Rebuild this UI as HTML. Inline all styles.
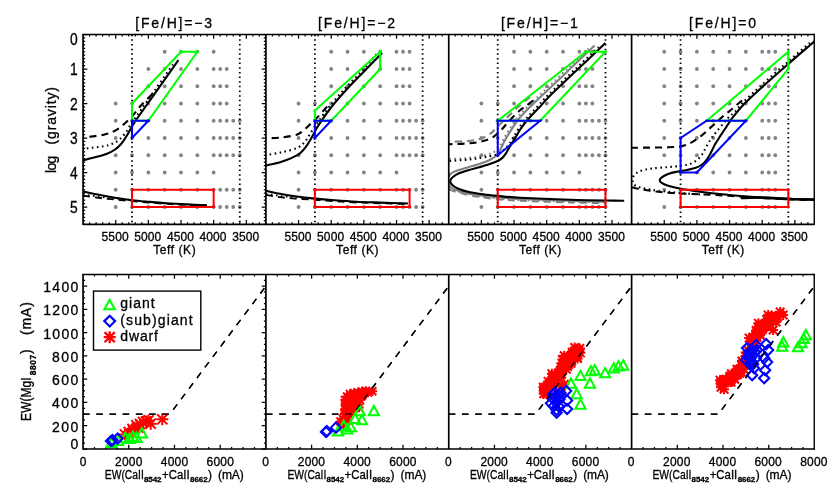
<!DOCTYPE html><html><head><meta charset="utf-8"><style>html,body{margin:0;padding:0;background:#fff}svg{display:block}text{font-family:"Liberation Sans",sans-serif;fill:#000;stroke:#000;stroke-width:0.3px}</style></head><body>
<svg style="will-change:transform" width="830" height="499" viewBox="0 0 830 499">
<rect width="830" height="499" fill="#fff"/>
<clipPath id="ct0"><rect x="83.05" y="34.5" width="182.85" height="189.8"/></clipPath>
<clipPath id="cb0"><rect x="83.05" y="274.5" width="182.85" height="174.5"/></clipPath>
<clipPath id="ct1"><rect x="265.9" y="34.5" width="182.85" height="189.8"/></clipPath>
<clipPath id="cb1"><rect x="265.9" y="274.5" width="182.85" height="174.5"/></clipPath>
<clipPath id="ct2"><rect x="448.75" y="34.5" width="182.85" height="189.8"/></clipPath>
<clipPath id="cb2"><rect x="448.75" y="274.5" width="182.85" height="174.5"/></clipPath>
<clipPath id="ct3"><rect x="631.6" y="34.5" width="182.85" height="189.8"/></clipPath>
<clipPath id="cb3"><rect x="631.6" y="274.5" width="182.85" height="174.5"/></clipPath>
<g clip-path="url(#ct0)">
<circle cx="164.68" cy="51.75" r="1.9" fill="#848484"/>
<circle cx="181.01" cy="51.75" r="1.9" fill="#848484"/>
<circle cx="197.33" cy="51.75" r="1.9" fill="#848484"/>
<circle cx="213.66" cy="51.75" r="1.9" fill="#848484"/>
<circle cx="148.35" cy="69" r="1.9" fill="#848484"/>
<circle cx="164.68" cy="69" r="1.9" fill="#848484"/>
<circle cx="181.01" cy="69" r="1.9" fill="#848484"/>
<circle cx="197.33" cy="69" r="1.9" fill="#848484"/>
<circle cx="213.66" cy="69" r="1.9" fill="#848484"/>
<circle cx="220.19" cy="69" r="1.9" fill="#848484"/>
<circle cx="226.72" cy="69" r="1.9" fill="#848484"/>
<circle cx="148.35" cy="86.25" r="1.9" fill="#848484"/>
<circle cx="164.68" cy="86.25" r="1.9" fill="#848484"/>
<circle cx="181.01" cy="86.25" r="1.9" fill="#848484"/>
<circle cx="197.33" cy="86.25" r="1.9" fill="#848484"/>
<circle cx="213.66" cy="86.25" r="1.9" fill="#848484"/>
<circle cx="220.19" cy="86.25" r="1.9" fill="#848484"/>
<circle cx="226.72" cy="86.25" r="1.9" fill="#848484"/>
<circle cx="115.7" cy="103.5" r="1.9" fill="#848484"/>
<circle cx="132.03" cy="103.5" r="1.9" fill="#848484"/>
<circle cx="148.35" cy="103.5" r="1.9" fill="#848484"/>
<circle cx="164.68" cy="103.5" r="1.9" fill="#848484"/>
<circle cx="181.01" cy="103.5" r="1.9" fill="#848484"/>
<circle cx="197.33" cy="103.5" r="1.9" fill="#848484"/>
<circle cx="213.66" cy="103.5" r="1.9" fill="#848484"/>
<circle cx="220.19" cy="103.5" r="1.9" fill="#848484"/>
<circle cx="226.72" cy="103.5" r="1.9" fill="#848484"/>
<circle cx="115.7" cy="120.75" r="1.9" fill="#848484"/>
<circle cx="132.03" cy="120.75" r="1.9" fill="#848484"/>
<circle cx="148.35" cy="120.75" r="1.9" fill="#848484"/>
<circle cx="164.68" cy="120.75" r="1.9" fill="#848484"/>
<circle cx="181.01" cy="120.75" r="1.9" fill="#848484"/>
<circle cx="197.33" cy="120.75" r="1.9" fill="#848484"/>
<circle cx="213.66" cy="120.75" r="1.9" fill="#848484"/>
<circle cx="220.19" cy="120.75" r="1.9" fill="#848484"/>
<circle cx="226.72" cy="120.75" r="1.9" fill="#848484"/>
<circle cx="233.25" cy="120.75" r="1.9" fill="#848484"/>
<circle cx="239.78" cy="120.75" r="1.9" fill="#848484"/>
<circle cx="115.7" cy="138" r="1.9" fill="#848484"/>
<circle cx="132.03" cy="138" r="1.9" fill="#848484"/>
<circle cx="148.35" cy="138" r="1.9" fill="#848484"/>
<circle cx="164.68" cy="138" r="1.9" fill="#848484"/>
<circle cx="181.01" cy="138" r="1.9" fill="#848484"/>
<circle cx="197.33" cy="138" r="1.9" fill="#848484"/>
<circle cx="213.66" cy="138" r="1.9" fill="#848484"/>
<circle cx="220.19" cy="138" r="1.9" fill="#848484"/>
<circle cx="226.72" cy="138" r="1.9" fill="#848484"/>
<circle cx="233.25" cy="138" r="1.9" fill="#848484"/>
<circle cx="239.78" cy="138" r="1.9" fill="#848484"/>
<circle cx="115.7" cy="155.25" r="1.9" fill="#848484"/>
<circle cx="132.03" cy="155.25" r="1.9" fill="#848484"/>
<circle cx="148.35" cy="155.25" r="1.9" fill="#848484"/>
<circle cx="164.68" cy="155.25" r="1.9" fill="#848484"/>
<circle cx="181.01" cy="155.25" r="1.9" fill="#848484"/>
<circle cx="197.33" cy="155.25" r="1.9" fill="#848484"/>
<circle cx="213.66" cy="155.25" r="1.9" fill="#848484"/>
<circle cx="220.19" cy="155.25" r="1.9" fill="#848484"/>
<circle cx="226.72" cy="155.25" r="1.9" fill="#848484"/>
<circle cx="233.25" cy="155.25" r="1.9" fill="#848484"/>
<circle cx="239.78" cy="155.25" r="1.9" fill="#848484"/>
<circle cx="115.7" cy="172.5" r="1.9" fill="#848484"/>
<circle cx="132.03" cy="172.5" r="1.9" fill="#848484"/>
<circle cx="148.35" cy="172.5" r="1.9" fill="#848484"/>
<circle cx="164.68" cy="172.5" r="1.9" fill="#848484"/>
<circle cx="181.01" cy="172.5" r="1.9" fill="#848484"/>
<circle cx="197.33" cy="172.5" r="1.9" fill="#848484"/>
<circle cx="213.66" cy="172.5" r="1.9" fill="#848484"/>
<circle cx="115.7" cy="189.75" r="1.9" fill="#848484"/>
<circle cx="132.03" cy="189.75" r="1.9" fill="#848484"/>
<circle cx="148.35" cy="189.75" r="1.9" fill="#848484"/>
<circle cx="164.68" cy="189.75" r="1.9" fill="#848484"/>
<circle cx="181.01" cy="189.75" r="1.9" fill="#848484"/>
<circle cx="197.33" cy="189.75" r="1.9" fill="#848484"/>
<circle cx="213.66" cy="189.75" r="1.9" fill="#848484"/>
<circle cx="220.19" cy="189.75" r="1.9" fill="#848484"/>
<circle cx="226.72" cy="189.75" r="1.9" fill="#848484"/>
<circle cx="233.25" cy="189.75" r="1.9" fill="#848484"/>
<circle cx="239.78" cy="189.75" r="1.9" fill="#848484"/>
<circle cx="115.7" cy="207" r="1.9" fill="#848484"/>
<circle cx="132.03" cy="207" r="1.9" fill="#848484"/>
<circle cx="148.35" cy="207" r="1.9" fill="#848484"/>
<circle cx="164.68" cy="207" r="1.9" fill="#848484"/>
<circle cx="181.01" cy="207" r="1.9" fill="#848484"/>
<circle cx="197.33" cy="207" r="1.9" fill="#848484"/>
<circle cx="213.66" cy="207" r="1.9" fill="#848484"/>
<circle cx="220.19" cy="207" r="1.9" fill="#848484"/>
<circle cx="226.72" cy="207" r="1.9" fill="#848484"/>
<circle cx="233.25" cy="207" r="1.9" fill="#848484"/>
<circle cx="239.78" cy="207" r="1.9" fill="#848484"/>
<line x1="132.03" y1="34.5" x2="132.03" y2="224.3" stroke="#000" stroke-width="1.8" stroke-dasharray="1.5 3.15" stroke-dashoffset="-0.2"/>
<line x1="239.78" y1="34.5" x2="239.78" y2="224.3" stroke="#000" stroke-width="1.8" stroke-dasharray="1.5 3.15" stroke-dashoffset="-0.2"/>
</g>
<g clip-path="url(#ct1)">
<circle cx="331.2" cy="51.75" r="1.9" fill="#848484"/>
<circle cx="347.53" cy="51.75" r="1.9" fill="#848484"/>
<circle cx="363.86" cy="51.75" r="1.9" fill="#848484"/>
<circle cx="380.18" cy="51.75" r="1.9" fill="#848484"/>
<circle cx="396.51" cy="51.75" r="1.9" fill="#848484"/>
<circle cx="403.04" cy="51.75" r="1.9" fill="#848484"/>
<circle cx="409.57" cy="51.75" r="1.9" fill="#848484"/>
<circle cx="331.2" cy="69" r="1.9" fill="#848484"/>
<circle cx="347.53" cy="69" r="1.9" fill="#848484"/>
<circle cx="363.86" cy="69" r="1.9" fill="#848484"/>
<circle cx="380.18" cy="69" r="1.9" fill="#848484"/>
<circle cx="396.51" cy="69" r="1.9" fill="#848484"/>
<circle cx="403.04" cy="69" r="1.9" fill="#848484"/>
<circle cx="409.57" cy="69" r="1.9" fill="#848484"/>
<circle cx="331.2" cy="86.25" r="1.9" fill="#848484"/>
<circle cx="347.53" cy="86.25" r="1.9" fill="#848484"/>
<circle cx="363.86" cy="86.25" r="1.9" fill="#848484"/>
<circle cx="380.18" cy="86.25" r="1.9" fill="#848484"/>
<circle cx="396.51" cy="86.25" r="1.9" fill="#848484"/>
<circle cx="403.04" cy="86.25" r="1.9" fill="#848484"/>
<circle cx="409.57" cy="86.25" r="1.9" fill="#848484"/>
<circle cx="298.55" cy="103.5" r="1.9" fill="#848484"/>
<circle cx="314.88" cy="103.5" r="1.9" fill="#848484"/>
<circle cx="331.2" cy="103.5" r="1.9" fill="#848484"/>
<circle cx="347.53" cy="103.5" r="1.9" fill="#848484"/>
<circle cx="363.86" cy="103.5" r="1.9" fill="#848484"/>
<circle cx="380.18" cy="103.5" r="1.9" fill="#848484"/>
<circle cx="396.51" cy="103.5" r="1.9" fill="#848484"/>
<circle cx="403.04" cy="103.5" r="1.9" fill="#848484"/>
<circle cx="409.57" cy="103.5" r="1.9" fill="#848484"/>
<circle cx="298.55" cy="120.75" r="1.9" fill="#848484"/>
<circle cx="314.88" cy="120.75" r="1.9" fill="#848484"/>
<circle cx="331.2" cy="120.75" r="1.9" fill="#848484"/>
<circle cx="347.53" cy="120.75" r="1.9" fill="#848484"/>
<circle cx="363.86" cy="120.75" r="1.9" fill="#848484"/>
<circle cx="380.18" cy="120.75" r="1.9" fill="#848484"/>
<circle cx="396.51" cy="120.75" r="1.9" fill="#848484"/>
<circle cx="403.04" cy="120.75" r="1.9" fill="#848484"/>
<circle cx="409.57" cy="120.75" r="1.9" fill="#848484"/>
<circle cx="416.1" cy="120.75" r="1.9" fill="#848484"/>
<circle cx="422.63" cy="120.75" r="1.9" fill="#848484"/>
<circle cx="298.55" cy="138" r="1.9" fill="#848484"/>
<circle cx="314.88" cy="138" r="1.9" fill="#848484"/>
<circle cx="331.2" cy="138" r="1.9" fill="#848484"/>
<circle cx="347.53" cy="138" r="1.9" fill="#848484"/>
<circle cx="363.86" cy="138" r="1.9" fill="#848484"/>
<circle cx="380.18" cy="138" r="1.9" fill="#848484"/>
<circle cx="396.51" cy="138" r="1.9" fill="#848484"/>
<circle cx="403.04" cy="138" r="1.9" fill="#848484"/>
<circle cx="409.57" cy="138" r="1.9" fill="#848484"/>
<circle cx="416.1" cy="138" r="1.9" fill="#848484"/>
<circle cx="422.63" cy="138" r="1.9" fill="#848484"/>
<circle cx="298.55" cy="155.25" r="1.9" fill="#848484"/>
<circle cx="314.88" cy="155.25" r="1.9" fill="#848484"/>
<circle cx="331.2" cy="155.25" r="1.9" fill="#848484"/>
<circle cx="347.53" cy="155.25" r="1.9" fill="#848484"/>
<circle cx="363.86" cy="155.25" r="1.9" fill="#848484"/>
<circle cx="380.18" cy="155.25" r="1.9" fill="#848484"/>
<circle cx="396.51" cy="155.25" r="1.9" fill="#848484"/>
<circle cx="403.04" cy="155.25" r="1.9" fill="#848484"/>
<circle cx="409.57" cy="155.25" r="1.9" fill="#848484"/>
<circle cx="416.1" cy="155.25" r="1.9" fill="#848484"/>
<circle cx="422.63" cy="155.25" r="1.9" fill="#848484"/>
<circle cx="298.55" cy="172.5" r="1.9" fill="#848484"/>
<circle cx="314.88" cy="172.5" r="1.9" fill="#848484"/>
<circle cx="331.2" cy="172.5" r="1.9" fill="#848484"/>
<circle cx="347.53" cy="172.5" r="1.9" fill="#848484"/>
<circle cx="363.86" cy="172.5" r="1.9" fill="#848484"/>
<circle cx="380.18" cy="172.5" r="1.9" fill="#848484"/>
<circle cx="396.51" cy="172.5" r="1.9" fill="#848484"/>
<circle cx="298.55" cy="189.75" r="1.9" fill="#848484"/>
<circle cx="314.88" cy="189.75" r="1.9" fill="#848484"/>
<circle cx="331.2" cy="189.75" r="1.9" fill="#848484"/>
<circle cx="347.53" cy="189.75" r="1.9" fill="#848484"/>
<circle cx="363.86" cy="189.75" r="1.9" fill="#848484"/>
<circle cx="380.18" cy="189.75" r="1.9" fill="#848484"/>
<circle cx="396.51" cy="189.75" r="1.9" fill="#848484"/>
<circle cx="403.04" cy="189.75" r="1.9" fill="#848484"/>
<circle cx="409.57" cy="189.75" r="1.9" fill="#848484"/>
<circle cx="416.1" cy="189.75" r="1.9" fill="#848484"/>
<circle cx="422.63" cy="189.75" r="1.9" fill="#848484"/>
<circle cx="298.55" cy="207" r="1.9" fill="#848484"/>
<circle cx="314.88" cy="207" r="1.9" fill="#848484"/>
<circle cx="331.2" cy="207" r="1.9" fill="#848484"/>
<circle cx="347.53" cy="207" r="1.9" fill="#848484"/>
<circle cx="363.86" cy="207" r="1.9" fill="#848484"/>
<circle cx="380.18" cy="207" r="1.9" fill="#848484"/>
<circle cx="396.51" cy="207" r="1.9" fill="#848484"/>
<circle cx="403.04" cy="207" r="1.9" fill="#848484"/>
<circle cx="409.57" cy="207" r="1.9" fill="#848484"/>
<circle cx="416.1" cy="207" r="1.9" fill="#848484"/>
<circle cx="422.63" cy="207" r="1.9" fill="#848484"/>
<line x1="314.88" y1="34.5" x2="314.88" y2="224.3" stroke="#000" stroke-width="1.8" stroke-dasharray="1.5 3.15" stroke-dashoffset="-0.2"/>
<line x1="422.63" y1="34.5" x2="422.63" y2="224.3" stroke="#000" stroke-width="1.8" stroke-dasharray="1.5 3.15" stroke-dashoffset="-0.2"/>
</g>
<g clip-path="url(#ct2)">
<circle cx="514.05" cy="51.75" r="1.9" fill="#848484"/>
<circle cx="530.38" cy="51.75" r="1.9" fill="#848484"/>
<circle cx="546.71" cy="51.75" r="1.9" fill="#848484"/>
<circle cx="563.03" cy="51.75" r="1.9" fill="#848484"/>
<circle cx="579.36" cy="51.75" r="1.9" fill="#848484"/>
<circle cx="585.89" cy="51.75" r="1.9" fill="#848484"/>
<circle cx="592.42" cy="51.75" r="1.9" fill="#848484"/>
<circle cx="514.05" cy="69" r="1.9" fill="#848484"/>
<circle cx="530.38" cy="69" r="1.9" fill="#848484"/>
<circle cx="546.71" cy="69" r="1.9" fill="#848484"/>
<circle cx="563.03" cy="69" r="1.9" fill="#848484"/>
<circle cx="579.36" cy="69" r="1.9" fill="#848484"/>
<circle cx="585.89" cy="69" r="1.9" fill="#848484"/>
<circle cx="592.42" cy="69" r="1.9" fill="#848484"/>
<circle cx="514.05" cy="86.25" r="1.9" fill="#848484"/>
<circle cx="530.38" cy="86.25" r="1.9" fill="#848484"/>
<circle cx="546.71" cy="86.25" r="1.9" fill="#848484"/>
<circle cx="563.03" cy="86.25" r="1.9" fill="#848484"/>
<circle cx="579.36" cy="86.25" r="1.9" fill="#848484"/>
<circle cx="585.89" cy="86.25" r="1.9" fill="#848484"/>
<circle cx="592.42" cy="86.25" r="1.9" fill="#848484"/>
<circle cx="481.4" cy="103.5" r="1.9" fill="#848484"/>
<circle cx="497.73" cy="103.5" r="1.9" fill="#848484"/>
<circle cx="514.05" cy="103.5" r="1.9" fill="#848484"/>
<circle cx="530.38" cy="103.5" r="1.9" fill="#848484"/>
<circle cx="546.71" cy="103.5" r="1.9" fill="#848484"/>
<circle cx="563.03" cy="103.5" r="1.9" fill="#848484"/>
<circle cx="579.36" cy="103.5" r="1.9" fill="#848484"/>
<circle cx="585.89" cy="103.5" r="1.9" fill="#848484"/>
<circle cx="592.42" cy="103.5" r="1.9" fill="#848484"/>
<circle cx="481.4" cy="120.75" r="1.9" fill="#848484"/>
<circle cx="497.73" cy="120.75" r="1.9" fill="#848484"/>
<circle cx="514.05" cy="120.75" r="1.9" fill="#848484"/>
<circle cx="530.38" cy="120.75" r="1.9" fill="#848484"/>
<circle cx="546.71" cy="120.75" r="1.9" fill="#848484"/>
<circle cx="563.03" cy="120.75" r="1.9" fill="#848484"/>
<circle cx="579.36" cy="120.75" r="1.9" fill="#848484"/>
<circle cx="585.89" cy="120.75" r="1.9" fill="#848484"/>
<circle cx="592.42" cy="120.75" r="1.9" fill="#848484"/>
<circle cx="598.95" cy="120.75" r="1.9" fill="#848484"/>
<circle cx="605.48" cy="120.75" r="1.9" fill="#848484"/>
<circle cx="481.4" cy="138" r="1.9" fill="#848484"/>
<circle cx="497.73" cy="138" r="1.9" fill="#848484"/>
<circle cx="514.05" cy="138" r="1.9" fill="#848484"/>
<circle cx="530.38" cy="138" r="1.9" fill="#848484"/>
<circle cx="546.71" cy="138" r="1.9" fill="#848484"/>
<circle cx="563.03" cy="138" r="1.9" fill="#848484"/>
<circle cx="579.36" cy="138" r="1.9" fill="#848484"/>
<circle cx="585.89" cy="138" r="1.9" fill="#848484"/>
<circle cx="592.42" cy="138" r="1.9" fill="#848484"/>
<circle cx="598.95" cy="138" r="1.9" fill="#848484"/>
<circle cx="605.48" cy="138" r="1.9" fill="#848484"/>
<circle cx="481.4" cy="155.25" r="1.9" fill="#848484"/>
<circle cx="497.73" cy="155.25" r="1.9" fill="#848484"/>
<circle cx="514.05" cy="155.25" r="1.9" fill="#848484"/>
<circle cx="530.38" cy="155.25" r="1.9" fill="#848484"/>
<circle cx="546.71" cy="155.25" r="1.9" fill="#848484"/>
<circle cx="563.03" cy="155.25" r="1.9" fill="#848484"/>
<circle cx="579.36" cy="155.25" r="1.9" fill="#848484"/>
<circle cx="585.89" cy="155.25" r="1.9" fill="#848484"/>
<circle cx="592.42" cy="155.25" r="1.9" fill="#848484"/>
<circle cx="598.95" cy="155.25" r="1.9" fill="#848484"/>
<circle cx="605.48" cy="155.25" r="1.9" fill="#848484"/>
<circle cx="481.4" cy="172.5" r="1.9" fill="#848484"/>
<circle cx="497.73" cy="172.5" r="1.9" fill="#848484"/>
<circle cx="514.05" cy="172.5" r="1.9" fill="#848484"/>
<circle cx="530.38" cy="172.5" r="1.9" fill="#848484"/>
<circle cx="546.71" cy="172.5" r="1.9" fill="#848484"/>
<circle cx="563.03" cy="172.5" r="1.9" fill="#848484"/>
<circle cx="579.36" cy="172.5" r="1.9" fill="#848484"/>
<circle cx="481.4" cy="189.75" r="1.9" fill="#848484"/>
<circle cx="497.73" cy="189.75" r="1.9" fill="#848484"/>
<circle cx="514.05" cy="189.75" r="1.9" fill="#848484"/>
<circle cx="530.38" cy="189.75" r="1.9" fill="#848484"/>
<circle cx="546.71" cy="189.75" r="1.9" fill="#848484"/>
<circle cx="563.03" cy="189.75" r="1.9" fill="#848484"/>
<circle cx="579.36" cy="189.75" r="1.9" fill="#848484"/>
<circle cx="585.89" cy="189.75" r="1.9" fill="#848484"/>
<circle cx="592.42" cy="189.75" r="1.9" fill="#848484"/>
<circle cx="598.95" cy="189.75" r="1.9" fill="#848484"/>
<circle cx="605.48" cy="189.75" r="1.9" fill="#848484"/>
<circle cx="481.4" cy="207" r="1.9" fill="#848484"/>
<circle cx="497.73" cy="207" r="1.9" fill="#848484"/>
<circle cx="514.05" cy="207" r="1.9" fill="#848484"/>
<circle cx="530.38" cy="207" r="1.9" fill="#848484"/>
<circle cx="546.71" cy="207" r="1.9" fill="#848484"/>
<circle cx="563.03" cy="207" r="1.9" fill="#848484"/>
<circle cx="579.36" cy="207" r="1.9" fill="#848484"/>
<circle cx="585.89" cy="207" r="1.9" fill="#848484"/>
<circle cx="592.42" cy="207" r="1.9" fill="#848484"/>
<circle cx="598.95" cy="207" r="1.9" fill="#848484"/>
<circle cx="605.48" cy="207" r="1.9" fill="#848484"/>
<line x1="497.73" y1="34.5" x2="497.73" y2="224.3" stroke="#000" stroke-width="1.8" stroke-dasharray="1.5 3.15" stroke-dashoffset="-0.2"/>
<line x1="605.48" y1="34.5" x2="605.48" y2="224.3" stroke="#000" stroke-width="1.8" stroke-dasharray="1.5 3.15" stroke-dashoffset="-0.2"/>
</g>
<g clip-path="url(#ct3)">
<circle cx="664.25" cy="51.75" r="1.9" fill="#848484"/>
<circle cx="680.58" cy="51.75" r="1.9" fill="#848484"/>
<circle cx="696.9" cy="51.75" r="1.9" fill="#848484"/>
<circle cx="713.23" cy="51.75" r="1.9" fill="#848484"/>
<circle cx="729.56" cy="51.75" r="1.9" fill="#848484"/>
<circle cx="745.88" cy="51.75" r="1.9" fill="#848484"/>
<circle cx="762.21" cy="51.75" r="1.9" fill="#848484"/>
<circle cx="768.74" cy="51.75" r="1.9" fill="#848484"/>
<circle cx="775.27" cy="51.75" r="1.9" fill="#848484"/>
<circle cx="664.25" cy="69" r="1.9" fill="#848484"/>
<circle cx="680.58" cy="69" r="1.9" fill="#848484"/>
<circle cx="696.9" cy="69" r="1.9" fill="#848484"/>
<circle cx="713.23" cy="69" r="1.9" fill="#848484"/>
<circle cx="729.56" cy="69" r="1.9" fill="#848484"/>
<circle cx="745.88" cy="69" r="1.9" fill="#848484"/>
<circle cx="762.21" cy="69" r="1.9" fill="#848484"/>
<circle cx="768.74" cy="69" r="1.9" fill="#848484"/>
<circle cx="775.27" cy="69" r="1.9" fill="#848484"/>
<circle cx="664.25" cy="86.25" r="1.9" fill="#848484"/>
<circle cx="680.58" cy="86.25" r="1.9" fill="#848484"/>
<circle cx="696.9" cy="86.25" r="1.9" fill="#848484"/>
<circle cx="713.23" cy="86.25" r="1.9" fill="#848484"/>
<circle cx="729.56" cy="86.25" r="1.9" fill="#848484"/>
<circle cx="745.88" cy="86.25" r="1.9" fill="#848484"/>
<circle cx="762.21" cy="86.25" r="1.9" fill="#848484"/>
<circle cx="768.74" cy="86.25" r="1.9" fill="#848484"/>
<circle cx="775.27" cy="86.25" r="1.9" fill="#848484"/>
<circle cx="664.25" cy="103.5" r="1.9" fill="#848484"/>
<circle cx="680.58" cy="103.5" r="1.9" fill="#848484"/>
<circle cx="696.9" cy="103.5" r="1.9" fill="#848484"/>
<circle cx="713.23" cy="103.5" r="1.9" fill="#848484"/>
<circle cx="729.56" cy="103.5" r="1.9" fill="#848484"/>
<circle cx="745.88" cy="103.5" r="1.9" fill="#848484"/>
<circle cx="762.21" cy="103.5" r="1.9" fill="#848484"/>
<circle cx="768.74" cy="103.5" r="1.9" fill="#848484"/>
<circle cx="775.27" cy="103.5" r="1.9" fill="#848484"/>
<circle cx="664.25" cy="120.75" r="1.9" fill="#848484"/>
<circle cx="680.58" cy="120.75" r="1.9" fill="#848484"/>
<circle cx="696.9" cy="120.75" r="1.9" fill="#848484"/>
<circle cx="713.23" cy="120.75" r="1.9" fill="#848484"/>
<circle cx="729.56" cy="120.75" r="1.9" fill="#848484"/>
<circle cx="745.88" cy="120.75" r="1.9" fill="#848484"/>
<circle cx="762.21" cy="120.75" r="1.9" fill="#848484"/>
<circle cx="768.74" cy="120.75" r="1.9" fill="#848484"/>
<circle cx="775.27" cy="120.75" r="1.9" fill="#848484"/>
<circle cx="664.25" cy="138" r="1.9" fill="#848484"/>
<circle cx="680.58" cy="138" r="1.9" fill="#848484"/>
<circle cx="696.9" cy="138" r="1.9" fill="#848484"/>
<circle cx="713.23" cy="138" r="1.9" fill="#848484"/>
<circle cx="729.56" cy="138" r="1.9" fill="#848484"/>
<circle cx="745.88" cy="138" r="1.9" fill="#848484"/>
<circle cx="762.21" cy="138" r="1.9" fill="#848484"/>
<circle cx="768.74" cy="138" r="1.9" fill="#848484"/>
<circle cx="775.27" cy="138" r="1.9" fill="#848484"/>
<circle cx="664.25" cy="155.25" r="1.9" fill="#848484"/>
<circle cx="680.58" cy="155.25" r="1.9" fill="#848484"/>
<circle cx="696.9" cy="155.25" r="1.9" fill="#848484"/>
<circle cx="713.23" cy="155.25" r="1.9" fill="#848484"/>
<circle cx="729.56" cy="155.25" r="1.9" fill="#848484"/>
<circle cx="745.88" cy="155.25" r="1.9" fill="#848484"/>
<circle cx="762.21" cy="155.25" r="1.9" fill="#848484"/>
<circle cx="768.74" cy="155.25" r="1.9" fill="#848484"/>
<circle cx="775.27" cy="155.25" r="1.9" fill="#848484"/>
<circle cx="680.58" cy="172.5" r="1.9" fill="#848484"/>
<circle cx="696.9" cy="172.5" r="1.9" fill="#848484"/>
<circle cx="713.23" cy="172.5" r="1.9" fill="#848484"/>
<circle cx="729.56" cy="172.5" r="1.9" fill="#848484"/>
<circle cx="745.88" cy="172.5" r="1.9" fill="#848484"/>
<circle cx="762.21" cy="172.5" r="1.9" fill="#848484"/>
<circle cx="768.74" cy="172.5" r="1.9" fill="#848484"/>
<circle cx="775.27" cy="172.5" r="1.9" fill="#848484"/>
<circle cx="664.25" cy="189.75" r="1.9" fill="#848484"/>
<circle cx="680.58" cy="189.75" r="1.9" fill="#848484"/>
<circle cx="696.9" cy="189.75" r="1.9" fill="#848484"/>
<circle cx="713.23" cy="189.75" r="1.9" fill="#848484"/>
<circle cx="729.56" cy="189.75" r="1.9" fill="#848484"/>
<circle cx="745.88" cy="189.75" r="1.9" fill="#848484"/>
<circle cx="762.21" cy="189.75" r="1.9" fill="#848484"/>
<circle cx="768.74" cy="189.75" r="1.9" fill="#848484"/>
<circle cx="775.27" cy="189.75" r="1.9" fill="#848484"/>
<circle cx="664.25" cy="207" r="1.9" fill="#848484"/>
<circle cx="680.58" cy="207" r="1.9" fill="#848484"/>
<circle cx="696.9" cy="207" r="1.9" fill="#848484"/>
<circle cx="713.23" cy="207" r="1.9" fill="#848484"/>
<circle cx="729.56" cy="207" r="1.9" fill="#848484"/>
<circle cx="745.88" cy="207" r="1.9" fill="#848484"/>
<circle cx="762.21" cy="207" r="1.9" fill="#848484"/>
<circle cx="768.74" cy="207" r="1.9" fill="#848484"/>
<circle cx="775.27" cy="207" r="1.9" fill="#848484"/>
<line x1="680.58" y1="34.5" x2="680.58" y2="224.3" stroke="#000" stroke-width="1.8" stroke-dasharray="1.5 3.15" stroke-dashoffset="-0.2"/>
<line x1="788.33" y1="34.5" x2="788.33" y2="224.3" stroke="#000" stroke-width="1.8" stroke-dasharray="1.5 3.15" stroke-dashoffset="-0.2"/>
</g>
<path d="M152.3,94 C150.42,95.92 144.22,101.97 141,105.5 C137.78,109.03 135.72,112.2 133,115.2 C130.28,118.2 127.68,120.92 124.7,123.5 C121.72,126.08 118.58,128.83 115.1,130.7 C111.62,132.57 109.15,133.55 103.8,134.7 C98.45,135.85 86.47,137.12 83,137.6" fill="none" stroke="#000" stroke-width="2.1" stroke-dasharray="7 5" clip-path="url(#ct0)" stroke-linejoin="round"/>
<path d="M172.95,64.41 C169.95,68.67 160.86,81.59 154.95,90.01 C149.03,98.42 141.22,109.61 137.45,114.91 C133.67,120.21 134.16,118.98 132.3,121.8 C130.44,124.62 128.37,128.9 126.3,131.8 C124.23,134.7 122.03,137.28 119.9,139.2 C117.77,141.12 116.18,142.13 113.5,143.3 C110.82,144.47 108.08,145.37 103.8,146.2 C99.52,147.03 91.27,147.82 87.8,148.3 C84.33,148.78 83.8,148.97 83,149.1" fill="none" stroke="#000" stroke-width="2.1" stroke-dasharray="1.6 3.4" clip-path="url(#ct0)" stroke-linejoin="round"/>
<path d="M178.4,60.2 C174.75,65.35 163.32,81.47 156.5,91.1 C149.68,100.73 141.25,112.65 137.5,118 C133.75,123.35 135.07,121.53 134,123.2 C132.93,124.87 132.38,125.78 131.1,128 C129.82,130.22 127.9,133.92 126.3,136.5 C124.7,139.08 123.37,141.33 121.5,143.5 C119.63,145.67 117.52,147.8 115.1,149.5 C112.68,151.2 110.22,152.43 107,153.7 C103.78,154.97 99.8,155.98 95.8,157.1 C91.8,158.22 85.13,159.85 83,160.4" fill="none" stroke="#000" stroke-width="2.1" clip-path="url(#ct0)" stroke-linejoin="round"/>
<path d="M83,195.6 C85.83,196 94.67,197.33 100,198 C105.33,198.67 109.68,199.07 115,199.6 C120.32,200.13 126.07,200.7 131.9,201.2 C137.73,201.7 144.1,202.15 150,202.6 C155.9,203.05 161.13,203.52 167.3,203.9 C173.47,204.28 180.38,204.6 187,204.9 C193.62,205.2 203.67,205.57 207,205.7" fill="none" stroke="#000" stroke-width="1.8" stroke-dasharray="7 5" clip-path="url(#ct0)" stroke-linejoin="round"/>
<path d="M83,194.4 C85.83,194.8 94.67,196.13 100,196.8 C105.33,197.47 109.68,197.87 115,198.4 C120.32,198.93 129.08,199.73 131.9,200" fill="none" stroke="#000" stroke-width="1.6" stroke-dasharray="1.6 3.4" clip-path="url(#ct0)" stroke-linejoin="round"/>
<path d="M83,191.5 C85.83,192.08 94.67,193.97 100,195 C105.33,196.03 109.68,196.83 115,197.7 C120.32,198.57 126.07,199.5 131.9,200.2 C137.73,200.9 144.1,201.38 150,201.9 C155.9,202.42 161.13,202.88 167.3,203.3 C173.47,203.72 180.38,204.07 187,204.4 C193.62,204.73 203.67,205.15 207,205.3" fill="none" stroke="#000" stroke-width="2.1" clip-path="url(#ct0)" stroke-linejoin="round"/>
<path d="M327.2,106.5 C325.68,108.18 320.8,113.77 318.1,116.6 C315.4,119.43 313.17,121.45 311,123.5 C308.83,125.55 307.38,127.08 305.1,128.9 C302.82,130.72 301.22,132.97 297.3,134.4 C293.38,135.83 286.82,136.85 281.6,137.5 C276.38,138.15 268.6,138.17 266,138.3" fill="none" stroke="#000" stroke-width="2.1" stroke-dasharray="7 5" clip-path="url(#ct1)" stroke-linejoin="round"/>
<path d="M376.57,54.25 C374.24,56.91 367.8,64.58 362.6,70.21 C357.41,75.84 350.89,82 345.4,88.02 C339.9,94.03 333.95,100.99 329.63,106.3 C325.31,111.61 322.05,116.35 319.48,119.86 C316.91,123.38 315.86,124.91 314.2,127.4 C312.54,129.89 311.02,132.47 309.5,134.8 C307.98,137.13 307.13,139.22 305.1,141.4 C303.07,143.58 301.22,146.08 297.3,147.9 C293.38,149.72 286.82,151.12 281.6,152.3 C276.38,153.48 268.6,154.55 266,155" fill="none" stroke="#000" stroke-width="2.1" stroke-dasharray="1.6 3.4" clip-path="url(#ct1)" stroke-linejoin="round"/>
<path d="M382.2,52.9 C379.17,56 369.9,65.43 364,71.5 C358.1,77.57 352.28,83.3 346.8,89.3 C341.32,95.3 335.88,101.42 331.1,107.5 C326.32,113.58 320.92,121.57 318.1,125.8 C315.28,130.03 315.55,130.45 314.2,132.9 C312.85,135.35 311.52,138 310,140.5 C308.48,143 307.22,145.45 305.1,147.9 C302.98,150.35 301.22,152.9 297.3,155.2 C293.38,157.5 286.82,160 281.6,161.7 C276.38,163.4 268.6,164.78 266,165.4" fill="none" stroke="#000" stroke-width="2.1" clip-path="url(#ct1)" stroke-linejoin="round"/>
<path d="M266,194.9 C268.33,195.28 275.17,196.58 280,197.2 C284.83,197.82 289.2,198.17 295,198.6 C300.8,199.03 308.13,199.35 314.8,199.8 C321.47,200.25 328.07,200.85 335,201.3 C341.93,201.75 348.9,202.17 356.4,202.5 C363.9,202.83 371.42,203.05 380,203.3 C388.58,203.55 403.25,203.88 407.9,204" fill="none" stroke="#000" stroke-width="1.8" stroke-dasharray="7 5" clip-path="url(#ct1)" stroke-linejoin="round"/>
<path d="M266,193.7 C268.33,194.08 275.17,195.38 280,196 C284.83,196.62 289.2,196.97 295,197.4 C300.8,197.83 311.5,198.4 314.8,198.6" fill="none" stroke="#000" stroke-width="1.6" stroke-dasharray="1.6 3.4" clip-path="url(#ct1)" stroke-linejoin="round"/>
<path d="M266,190.8 C268.33,191.28 275.17,192.8 280,193.7 C284.83,194.6 289.2,195.38 295,196.2 C300.8,197.02 308.13,197.92 314.8,198.6 C321.47,199.28 328.07,199.78 335,200.3 C341.93,200.82 348.9,201.32 356.4,201.7 C363.9,202.08 371.42,202.3 380,202.6 C388.58,202.9 403.25,203.35 407.9,203.5" fill="none" stroke="#000" stroke-width="2.1" clip-path="url(#ct1)" stroke-linejoin="round"/>
<path d="M530,97 C528.18,98.5 522.58,102.92 519.1,106 C515.62,109.08 512.43,112.32 509.1,115.5 C505.77,118.68 502.1,122.17 499.1,125.1 C496.1,128.03 494.1,130.85 491.1,133.1 C488.1,135.35 484.78,137.28 481.1,138.6 C477.42,139.92 474.35,140.47 469,141 C463.65,141.53 452.33,141.67 449,141.8" fill="none" stroke="#808080" stroke-width="2.1" stroke-dasharray="7 5" clip-path="url(#ct2)" stroke-linejoin="round"/>
<path d="M588.7,48.62 C585.69,51.45 577.36,59.29 570.69,65.62 C564.02,71.96 554.49,81.12 548.69,86.62 C542.89,92.12 539.73,94.95 535.89,98.63 C532.04,102.3 528.69,105.56 525.64,108.67 C522.6,111.79 520.3,113.92 517.61,117.32 C514.92,120.72 511.86,125.43 509.51,129.07 C507.15,132.7 505.22,136.05 503.47,139.12 C501.72,142.19 500.58,145.35 499,147.5 C497.42,149.65 496.17,150.75 494,152 C491.83,153.25 489,154.17 486,155 C483,155.83 480,156.42 476,157 C472,157.58 466.5,158.15 462,158.5 C457.5,158.85 451.17,159 449,159.1" fill="none" stroke="#808080" stroke-width="2.1" stroke-dasharray="1.6 3.4" clip-path="url(#ct2)" stroke-linejoin="round"/>
<path d="M594.6,45.5 C590.83,49.08 579.43,59.92 572,67 C564.57,74.08 555.8,82.5 550,88 C544.2,93.5 541.03,96.33 537.2,100 C533.37,103.67 530.02,106.92 527,110 C523.98,113.08 521.75,115.15 519.1,118.5 C516.45,121.85 513.43,126.5 511.1,130.1 C508.77,133.7 506.77,137.1 505.1,140.1 C503.43,143.1 502.43,145.6 501.1,148.1 C499.77,150.6 499.1,153.07 497.1,155.1 C495.1,157.13 492.1,158.8 489.1,160.3 C486.1,161.8 482.45,162.97 479.1,164.1 C475.75,165.23 472.35,166.1 469,167.1 C465.65,168.1 462,169.02 459,170.1 C456,171.18 452.92,171.78 451,173.6 C449.08,175.42 447.5,178.68 447.5,181 C447.5,183.32 449.08,185.83 451,187.5 C452.92,189.17 456,189.98 459,191 C462,192.02 464.98,192.8 469,193.6 C473.02,194.4 478.32,195.18 483.1,195.8 C487.88,196.42 491.52,196.77 497.7,197.3 C503.88,197.83 508.1,198.42 520.2,199 C532.3,199.58 556,200.37 570.3,200.8 C584.6,201.23 600.05,201.47 606,201.6" fill="none" stroke="#808080" stroke-width="2.1" clip-path="url(#ct2)" stroke-linejoin="round"/>
<path d="M449,189.5 C450,189.83 452.33,190.72 455,191.5 C457.67,192.28 460.83,193.28 465,194.2 C469.17,195.12 474.55,196.17 480,197 C485.45,197.83 491,198.57 497.7,199.2 C504.4,199.83 508.1,200.27 520.2,200.8 C532.3,201.33 556,202 570.3,202.4 C584.6,202.8 600.05,203.07 606,203.2" fill="none" stroke="#808080" stroke-width="2.0" stroke-dasharray="7 5" clip-path="url(#ct2)" stroke-linejoin="round"/>
<path d="M449,188.8 C450,189.13 452.33,190.02 455,190.8 C457.67,191.58 460.83,192.58 465,193.5 C469.17,194.42 474.55,195.47 480,196.3 C485.45,197.13 491,197.87 497.7,198.5 C504.4,199.13 508.1,199.57 520.2,200.1 C532.3,200.63 556,201.3 570.3,201.7 C584.6,202.1 600.05,202.37 606,202.5" fill="none" stroke="#808080" stroke-width="1.8" stroke-dasharray="1.6 3.4" clip-path="url(#ct2)" stroke-linejoin="round"/>
<path d="M533.1,100.5 C531.92,101.42 528.33,104.25 526,106 C523.67,107.75 521.92,108.5 519.1,111 C516.28,113.5 512.1,117.82 509.1,121 C506.1,124.18 503.77,127.42 501.1,130.1 C498.43,132.78 496.1,135.27 493.1,137.1 C490.1,138.93 487.12,140.07 483.1,141.1 C479.08,142.13 474.68,142.77 469,143.3 C463.32,143.83 452.33,144.13 449,144.3" fill="none" stroke="#000" stroke-width="2.1" stroke-dasharray="7 5" clip-path="url(#ct2)" stroke-linejoin="round"/>
<path d="M598.69,46.92 C595.03,50.39 585.03,59.8 576.69,67.72 C568.35,75.64 555.14,88.04 548.66,94.45 C542.18,100.86 541.3,102.48 537.81,106.2 C534.33,109.92 530.82,113.28 527.77,116.75 C524.73,120.21 521.93,123.61 519.54,127.01 C517.16,130.4 515.32,134.1 513.48,137.11 C511.64,140.12 510.4,142.69 508.49,145.09 C506.58,147.49 503.91,149.97 502,151.5 C500.09,153.03 499.15,153.5 497,154.3 C494.85,155.1 492.1,155.67 489.1,156.3 C486.1,156.93 482.35,157.57 479,158.1 C475.65,158.63 474,159 469,159.5 C464,160 452.33,160.83 449,161.1" fill="none" stroke="#000" stroke-width="2.1" stroke-dasharray="1.6 3.4" clip-path="url(#ct2)" stroke-linejoin="round"/>
<path d="M605.4,43.1 C600.83,47.43 587.23,60.32 578,69.1 C568.77,77.88 556.47,89.4 550,95.8 C543.53,102.2 542.67,103.8 539.2,107.5 C535.73,111.2 532.22,114.57 529.2,118 C526.18,121.43 523.45,124.75 521.1,128.1 C518.75,131.45 516.93,135.1 515.1,138.1 C513.27,141.1 511.6,143.6 510.1,146.1 C508.6,148.6 507.43,151.1 506.1,153.1 C504.77,155.1 503.6,156.73 502.1,158.1 C500.6,159.47 499.27,160.27 497.1,161.3 C494.93,162.33 492.1,163.3 489.1,164.3 C486.1,165.3 482.45,166.33 479.1,167.3 C475.75,168.27 472.35,169.1 469,170.1 C465.65,171.1 461.73,172.12 459,173.3 C456.27,174.48 454.07,175.88 452.6,177.2 C451.13,178.52 450.2,179.87 450.2,181.2 C450.2,182.53 451.13,183.9 452.6,185.2 C454.07,186.5 456.27,187.87 459,189 C461.73,190.13 464.98,191.12 469,192 C473.02,192.88 478.32,193.65 483.1,194.3 C487.88,194.95 491.52,195.32 497.7,195.9 C503.88,196.48 508.1,197.15 520.2,197.8 C532.3,198.45 552.97,199.3 570.3,199.8 C587.63,200.3 615.22,200.63 624.2,200.8" fill="none" stroke="#000" stroke-width="2.1" clip-path="url(#ct2)" stroke-linejoin="round"/>
<path d="M742,100.5 C740.33,101.92 735.3,106.25 732,109 C728.7,111.75 725.5,114.15 722.2,117 C718.9,119.85 715.55,123.08 712.2,126.1 C708.85,129.12 705.45,132.43 702.1,135.1 C698.75,137.77 695.43,140.27 692.1,142.1 C688.77,143.93 686.1,145.23 682.1,146.1 C678.1,146.97 673.45,147.05 668.1,147.3 C662.75,147.55 656.02,147.53 650,147.6 C643.98,147.67 635,147.68 632,147.7" fill="none" stroke="#000" stroke-width="2.1" stroke-dasharray="7 5" clip-path="url(#ct3)" stroke-linejoin="round"/>
<path d="M809.76,42.86 C805.94,46.16 795,55.53 786.85,62.67 C778.69,69.81 768.17,79.01 760.82,85.69 C753.47,92.38 747.13,98.34 742.75,102.76 C738.37,107.19 736.69,110.05 734.56,112.26 C732.44,114.47 731.73,114.29 730,116 C728.27,117.71 726.5,119.82 724.2,122.5 C721.9,125.18 718.53,129.17 716.2,132.1 C713.87,135.03 712.05,137.27 710.2,140.1 C708.35,142.93 706.78,146.27 705.1,149.1 C703.42,151.93 702.27,154.77 700.1,157.1 C697.93,159.43 695.1,161.67 692.1,163.1 C689.1,164.53 686.1,165.03 682.1,165.7 C678.1,166.37 673.12,166.63 668.1,167.1 C663.08,167.57 656.68,167.83 652,168.5 C647.32,169.17 643,169.93 640,171.1 C637,172.27 635.23,173.98 634,175.5 C632.77,177.02 632.6,178.7 632.6,180.2 C632.6,181.7 632.77,183.3 634,184.5 C635.23,185.7 637,186.5 640,187.4 C643,188.3 647.32,189.17 652,189.9 C656.68,190.63 662.77,191.23 668.1,191.8 C673.43,192.37 678.68,192.87 684,193.3 C689.32,193.73 697.33,194.22 700,194.4" fill="none" stroke="#000" stroke-width="2.1" stroke-dasharray="1.6 3.4" clip-path="url(#ct3)" stroke-linejoin="round"/>
<path d="M632,187.3 C633.67,187.67 638,188.8 642,189.5 C646,190.2 650.98,190.92 656,191.5 C661.02,192.08 666.08,192.58 672.1,193 C678.12,193.42 685.42,193.68 692.1,194 C698.78,194.32 705.55,194.55 712.2,194.9 C718.85,195.25 724.03,195.58 732,196.1 C739.97,196.62 750.33,197.45 760,198 C769.67,198.55 780.83,199.05 790,199.4 C799.17,199.75 810.83,199.98 815,200.1" fill="none" stroke="#000" stroke-width="2.0" stroke-dasharray="7 5" clip-path="url(#ct3)" stroke-linejoin="round"/>
<path d="M740.8,198 C744,197.93 751.8,197.43 760,197.6 C768.2,197.77 780.83,198.65 790,199 C799.17,199.35 810.83,199.58 815,199.7" fill="none" stroke="#000" stroke-width="2.6" clip-path="url(#ct3)" stroke-linejoin="round"/>
<path d="M814.8,41 C810.35,44.85 796.88,56.42 788.1,64.1 C779.32,71.78 769.43,80.43 762.1,87.1 C754.77,93.77 749.12,98.87 744.1,104.1 C739.08,109.33 734.98,114.67 732,118.5 C729.02,122.33 728.17,124.17 726.2,127.1 C724.23,130.03 722.03,133.27 720.2,136.1 C718.37,138.93 716.7,141.43 715.2,144.1 C713.7,146.77 712.53,149.6 711.2,152.1 C709.87,154.6 708.72,157.03 707.2,159.1 C705.68,161.17 704.12,163 702.1,164.5 C700.08,166 697.77,167.15 695.1,168.1 C692.43,169.05 689.27,169.57 686.1,170.2 C682.93,170.83 679.1,171.25 676.1,171.9 C673.1,172.55 670.43,173.22 668.1,174.1 C665.77,174.98 663.5,176.18 662.1,177.2 C660.7,178.22 659.7,179.2 659.7,180.2 C659.7,181.2 660.7,182.27 662.1,183.2 C663.5,184.13 665,184.87 668.1,185.8 C671.2,186.73 676.03,187.9 680.7,188.8 C685.37,189.7 690.85,190.47 696.1,191.2 C701.35,191.93 706.22,192.53 712.2,193.2 C718.18,193.87 724.03,194.5 732,195.2 C739.97,195.9 750.33,196.8 760,197.4 C769.67,198 780.83,198.45 790,198.8 C799.17,199.15 810.83,199.38 815,199.5" fill="none" stroke="#000" stroke-width="2.1" clip-path="url(#ct3)" stroke-linejoin="round"/>
<polygon points="132.03,103.5 181.01,51.75 197.33,51.75 148.35,120.75 132.03,120.75" fill="none" stroke="#00ff00" stroke-width="2" stroke-linejoin="miter"/>
<circle cx="132.03" cy="103.5" r="1.3" fill="#00ff00"/>
<circle cx="181.01" cy="51.75" r="1.3" fill="#00ff00"/>
<circle cx="197.33" cy="51.75" r="1.3" fill="#00ff00"/>
<circle cx="148.35" cy="120.75" r="1.3" fill="#00ff00"/>
<circle cx="132.03" cy="120.75" r="1.3" fill="#00ff00"/>
<polygon points="132.03,120.75 148.35,120.75 132.03,138" fill="none" stroke="#0000ff" stroke-width="2" stroke-linejoin="miter"/>
<circle cx="132.03" cy="120.75" r="1.3" fill="#0000ff"/>
<circle cx="148.35" cy="120.75" r="1.3" fill="#0000ff"/>
<circle cx="132.03" cy="138" r="1.3" fill="#0000ff"/>
<polygon points="132.03,189.75 213.66,189.75 213.66,207 132.03,207" fill="none" stroke="#ff0000" stroke-width="2" stroke-linejoin="miter"/>
<circle cx="132.03" cy="189.75" r="1.3" fill="#ff0000"/>
<circle cx="213.66" cy="189.75" r="1.3" fill="#ff0000"/>
<circle cx="213.66" cy="207" r="1.3" fill="#ff0000"/>
<circle cx="132.03" cy="207" r="1.3" fill="#ff0000"/>
<polygon points="314.88,110.4 380.18,51.75 380.18,69 331.2,120.75 314.88,120.75" fill="none" stroke="#00ff00" stroke-width="2" stroke-linejoin="miter"/>
<circle cx="314.88" cy="110.4" r="1.3" fill="#00ff00"/>
<circle cx="380.18" cy="51.75" r="1.3" fill="#00ff00"/>
<circle cx="380.18" cy="69" r="1.3" fill="#00ff00"/>
<circle cx="331.2" cy="120.75" r="1.3" fill="#00ff00"/>
<circle cx="314.88" cy="120.75" r="1.3" fill="#00ff00"/>
<polygon points="314.88,120.75 331.2,120.75 314.88,138" fill="none" stroke="#0000ff" stroke-width="2" stroke-linejoin="miter"/>
<circle cx="314.88" cy="120.75" r="1.3" fill="#0000ff"/>
<circle cx="331.2" cy="120.75" r="1.3" fill="#0000ff"/>
<circle cx="314.88" cy="138" r="1.3" fill="#0000ff"/>
<polygon points="314.88,189.75 409.57,189.75 409.57,207 314.88,207" fill="none" stroke="#ff0000" stroke-width="2" stroke-linejoin="miter"/>
<circle cx="314.88" cy="189.75" r="1.3" fill="#ff0000"/>
<circle cx="409.57" cy="189.75" r="1.3" fill="#ff0000"/>
<circle cx="409.57" cy="207" r="1.3" fill="#ff0000"/>
<circle cx="314.88" cy="207" r="1.3" fill="#ff0000"/>
<polygon points="497.73,120.75 585.89,51.75 605.48,51.75 540.17,120.75" fill="none" stroke="#00ff00" stroke-width="2" stroke-linejoin="miter"/>
<circle cx="497.73" cy="120.75" r="1.3" fill="#00ff00"/>
<circle cx="585.89" cy="51.75" r="1.3" fill="#00ff00"/>
<circle cx="605.48" cy="51.75" r="1.3" fill="#00ff00"/>
<circle cx="540.17" cy="120.75" r="1.3" fill="#00ff00"/>
<polygon points="497.73,120.75 540.17,120.75 497.73,155.25" fill="none" stroke="#0000ff" stroke-width="2" stroke-linejoin="miter"/>
<circle cx="497.73" cy="120.75" r="1.3" fill="#0000ff"/>
<circle cx="540.17" cy="120.75" r="1.3" fill="#0000ff"/>
<circle cx="497.73" cy="155.25" r="1.3" fill="#0000ff"/>
<polygon points="497.73,189.75 605.48,189.75 605.48,207 497.73,207" fill="none" stroke="#ff0000" stroke-width="2" stroke-linejoin="miter"/>
<circle cx="497.73" cy="189.75" r="1.3" fill="#ff0000"/>
<circle cx="605.48" cy="189.75" r="1.3" fill="#ff0000"/>
<circle cx="605.48" cy="207" r="1.3" fill="#ff0000"/>
<circle cx="497.73" cy="207" r="1.3" fill="#ff0000"/>
<polygon points="706.7,120.75 788.33,51.75 788.33,69 745.88,120.75" fill="none" stroke="#00ff00" stroke-width="2" stroke-linejoin="miter"/>
<circle cx="706.7" cy="120.75" r="1.3" fill="#00ff00"/>
<circle cx="788.33" cy="51.75" r="1.3" fill="#00ff00"/>
<circle cx="788.33" cy="69" r="1.3" fill="#00ff00"/>
<circle cx="745.88" cy="120.75" r="1.3" fill="#00ff00"/>
<polygon points="706.7,120.75 745.88,120.75 696.9,172.5 680.58,172.5 680.58,138" fill="none" stroke="#0000ff" stroke-width="2" stroke-linejoin="miter"/>
<circle cx="706.7" cy="120.75" r="1.3" fill="#0000ff"/>
<circle cx="745.88" cy="120.75" r="1.3" fill="#0000ff"/>
<circle cx="696.9" cy="172.5" r="1.3" fill="#0000ff"/>
<circle cx="680.58" cy="172.5" r="1.3" fill="#0000ff"/>
<circle cx="680.58" cy="138" r="1.3" fill="#0000ff"/>
<polygon points="680.58,189.75 788.33,189.75 788.33,207 680.58,207" fill="none" stroke="#ff0000" stroke-width="2" stroke-linejoin="miter"/>
<circle cx="680.58" cy="189.75" r="1.3" fill="#ff0000"/>
<circle cx="788.33" cy="189.75" r="1.3" fill="#ff0000"/>
<circle cx="788.33" cy="207" r="1.3" fill="#ff0000"/>
<circle cx="680.58" cy="207" r="1.3" fill="#ff0000"/>
<path d="M89.58,34.5L89.58,36.6M89.58,224.3L89.58,222.2M96.11,34.5L96.11,36.6M96.11,224.3L96.11,222.2M102.64,34.5L102.64,36.6M102.64,224.3L102.64,222.2M109.17,34.5L109.17,36.6M109.17,224.3L109.17,222.2M115.7,34.5L115.7,38.7M115.7,224.3L115.7,220.1M122.23,34.5L122.23,36.6M122.23,224.3L122.23,222.2M128.76,34.5L128.76,36.6M128.76,224.3L128.76,222.2M135.29,34.5L135.29,36.6M135.29,224.3L135.29,222.2M141.82,34.5L141.82,36.6M141.82,224.3L141.82,222.2M148.35,34.5L148.35,38.7M148.35,224.3L148.35,220.1M154.88,34.5L154.88,36.6M154.88,224.3L154.88,222.2M161.41,34.5L161.41,36.6M161.41,224.3L161.41,222.2M167.94,34.5L167.94,36.6M167.94,224.3L167.94,222.2M174.47,34.5L174.47,36.6M174.47,224.3L174.47,222.2M181.01,34.5L181.01,38.7M181.01,224.3L181.01,220.1M187.54,34.5L187.54,36.6M187.54,224.3L187.54,222.2M194.07,34.5L194.07,36.6M194.07,224.3L194.07,222.2M200.6,34.5L200.6,36.6M200.6,224.3L200.6,222.2M207.13,34.5L207.13,36.6M207.13,224.3L207.13,222.2M213.66,34.5L213.66,38.7M213.66,224.3L213.66,220.1M220.19,34.5L220.19,36.6M220.19,224.3L220.19,222.2M226.72,34.5L226.72,36.6M226.72,224.3L226.72,222.2M233.25,34.5L233.25,36.6M233.25,224.3L233.25,222.2M239.78,34.5L239.78,36.6M239.78,224.3L239.78,222.2M246.31,34.5L246.31,38.7M246.31,224.3L246.31,220.1M252.84,34.5L252.84,36.6M252.84,224.3L252.84,222.2M259.37,34.5L259.37,36.6M259.37,224.3L259.37,222.2M94.48,274.5L94.48,276.5M94.48,449L94.48,447M105.91,274.5L105.91,276.5M105.91,449L105.91,447M117.33,274.5L117.33,276.5M117.33,449L117.33,447M128.76,274.5L128.76,278.7M128.76,449L128.76,444.8M140.19,274.5L140.19,276.5M140.19,449L140.19,447M151.62,274.5L151.62,276.5M151.62,449L151.62,447M163.05,274.5L163.05,276.5M163.05,449L163.05,447M174.47,274.5L174.47,278.7M174.47,449L174.47,444.8M185.9,274.5L185.9,276.5M185.9,449L185.9,447M197.33,274.5L197.33,276.5M197.33,449L197.33,447M208.76,274.5L208.76,276.5M208.76,449L208.76,447M220.19,274.5L220.19,278.7M220.19,449L220.19,444.8M231.62,274.5L231.62,276.5M231.62,449L231.62,447M243.04,274.5L243.04,276.5M243.04,449L243.04,447M254.47,274.5L254.47,276.5M254.47,449L254.47,447M272.43,34.5L272.43,36.6M272.43,224.3L272.43,222.2M278.96,34.5L278.96,36.6M278.96,224.3L278.96,222.2M285.49,34.5L285.49,36.6M285.49,224.3L285.49,222.2M292.02,34.5L292.02,36.6M292.02,224.3L292.02,222.2M298.55,34.5L298.55,38.7M298.55,224.3L298.55,220.1M305.08,34.5L305.08,36.6M305.08,224.3L305.08,222.2M311.61,34.5L311.61,36.6M311.61,224.3L311.61,222.2M318.14,34.5L318.14,36.6M318.14,224.3L318.14,222.2M324.67,34.5L324.67,36.6M324.67,224.3L324.67,222.2M331.2,34.5L331.2,38.7M331.2,224.3L331.2,220.1M337.73,34.5L337.73,36.6M337.73,224.3L337.73,222.2M344.26,34.5L344.26,36.6M344.26,224.3L344.26,222.2M350.79,34.5L350.79,36.6M350.79,224.3L350.79,222.2M357.32,34.5L357.32,36.6M357.32,224.3L357.32,222.2M363.86,34.5L363.86,38.7M363.86,224.3L363.86,220.1M370.39,34.5L370.39,36.6M370.39,224.3L370.39,222.2M376.92,34.5L376.92,36.6M376.92,224.3L376.92,222.2M383.45,34.5L383.45,36.6M383.45,224.3L383.45,222.2M389.98,34.5L389.98,36.6M389.98,224.3L389.98,222.2M396.51,34.5L396.51,38.7M396.51,224.3L396.51,220.1M403.04,34.5L403.04,36.6M403.04,224.3L403.04,222.2M409.57,34.5L409.57,36.6M409.57,224.3L409.57,222.2M416.1,34.5L416.1,36.6M416.1,224.3L416.1,222.2M422.63,34.5L422.63,36.6M422.63,224.3L422.63,222.2M429.16,34.5L429.16,38.7M429.16,224.3L429.16,220.1M435.69,34.5L435.69,36.6M435.69,224.3L435.69,222.2M442.22,34.5L442.22,36.6M442.22,224.3L442.22,222.2M277.33,274.5L277.33,276.5M277.33,449L277.33,447M288.76,274.5L288.76,276.5M288.76,449L288.76,447M300.18,274.5L300.18,276.5M300.18,449L300.18,447M311.61,274.5L311.61,278.7M311.61,449L311.61,444.8M323.04,274.5L323.04,276.5M323.04,449L323.04,447M334.47,274.5L334.47,276.5M334.47,449L334.47,447M345.9,274.5L345.9,276.5M345.9,449L345.9,447M357.32,274.5L357.32,278.7M357.32,449L357.32,444.8M368.75,274.5L368.75,276.5M368.75,449L368.75,447M380.18,274.5L380.18,276.5M380.18,449L380.18,447M391.61,274.5L391.61,276.5M391.61,449L391.61,447M403.04,274.5L403.04,278.7M403.04,449L403.04,444.8M414.47,274.5L414.47,276.5M414.47,449L414.47,447M425.89,274.5L425.89,276.5M425.89,449L425.89,447M437.32,274.5L437.32,276.5M437.32,449L437.32,447M455.28,34.5L455.28,36.6M455.28,224.3L455.28,222.2M461.81,34.5L461.81,36.6M461.81,224.3L461.81,222.2M468.34,34.5L468.34,36.6M468.34,224.3L468.34,222.2M474.87,34.5L474.87,36.6M474.87,224.3L474.87,222.2M481.4,34.5L481.4,38.7M481.4,224.3L481.4,220.1M487.93,34.5L487.93,36.6M487.93,224.3L487.93,222.2M494.46,34.5L494.46,36.6M494.46,224.3L494.46,222.2M500.99,34.5L500.99,36.6M500.99,224.3L500.99,222.2M507.52,34.5L507.52,36.6M507.52,224.3L507.52,222.2M514.05,34.5L514.05,38.7M514.05,224.3L514.05,220.1M520.58,34.5L520.58,36.6M520.58,224.3L520.58,222.2M527.11,34.5L527.11,36.6M527.11,224.3L527.11,222.2M533.64,34.5L533.64,36.6M533.64,224.3L533.64,222.2M540.17,34.5L540.17,36.6M540.17,224.3L540.17,222.2M546.71,34.5L546.71,38.7M546.71,224.3L546.71,220.1M553.24,34.5L553.24,36.6M553.24,224.3L553.24,222.2M559.77,34.5L559.77,36.6M559.77,224.3L559.77,222.2M566.3,34.5L566.3,36.6M566.3,224.3L566.3,222.2M572.83,34.5L572.83,36.6M572.83,224.3L572.83,222.2M579.36,34.5L579.36,38.7M579.36,224.3L579.36,220.1M585.89,34.5L585.89,36.6M585.89,224.3L585.89,222.2M592.42,34.5L592.42,36.6M592.42,224.3L592.42,222.2M598.95,34.5L598.95,36.6M598.95,224.3L598.95,222.2M605.48,34.5L605.48,36.6M605.48,224.3L605.48,222.2M612.01,34.5L612.01,38.7M612.01,224.3L612.01,220.1M618.54,34.5L618.54,36.6M618.54,224.3L618.54,222.2M625.07,34.5L625.07,36.6M625.07,224.3L625.07,222.2M460.18,274.5L460.18,276.5M460.18,449L460.18,447M471.61,274.5L471.61,276.5M471.61,449L471.61,447M483.03,274.5L483.03,276.5M483.03,449L483.03,447M494.46,274.5L494.46,278.7M494.46,449L494.46,444.8M505.89,274.5L505.89,276.5M505.89,449L505.89,447M517.32,274.5L517.32,276.5M517.32,449L517.32,447M528.75,274.5L528.75,276.5M528.75,449L528.75,447M540.17,274.5L540.17,278.7M540.17,449L540.17,444.8M551.6,274.5L551.6,276.5M551.6,449L551.6,447M563.03,274.5L563.03,276.5M563.03,449L563.03,447M574.46,274.5L574.46,276.5M574.46,449L574.46,447M585.89,274.5L585.89,278.7M585.89,449L585.89,444.8M597.32,274.5L597.32,276.5M597.32,449L597.32,447M608.74,274.5L608.74,276.5M608.74,449L608.74,447M620.17,274.5L620.17,276.5M620.17,449L620.17,447M638.13,34.5L638.13,36.6M638.13,224.3L638.13,222.2M644.66,34.5L644.66,36.6M644.66,224.3L644.66,222.2M651.19,34.5L651.19,36.6M651.19,224.3L651.19,222.2M657.72,34.5L657.72,36.6M657.72,224.3L657.72,222.2M664.25,34.5L664.25,38.7M664.25,224.3L664.25,220.1M670.78,34.5L670.78,36.6M670.78,224.3L670.78,222.2M677.31,34.5L677.31,36.6M677.31,224.3L677.31,222.2M683.84,34.5L683.84,36.6M683.84,224.3L683.84,222.2M690.37,34.5L690.37,36.6M690.37,224.3L690.37,222.2M696.9,34.5L696.9,38.7M696.9,224.3L696.9,220.1M703.43,34.5L703.43,36.6M703.43,224.3L703.43,222.2M709.96,34.5L709.96,36.6M709.96,224.3L709.96,222.2M716.49,34.5L716.49,36.6M716.49,224.3L716.49,222.2M723.02,34.5L723.02,36.6M723.02,224.3L723.02,222.2M729.56,34.5L729.56,38.7M729.56,224.3L729.56,220.1M736.09,34.5L736.09,36.6M736.09,224.3L736.09,222.2M742.62,34.5L742.62,36.6M742.62,224.3L742.62,222.2M749.15,34.5L749.15,36.6M749.15,224.3L749.15,222.2M755.68,34.5L755.68,36.6M755.68,224.3L755.68,222.2M762.21,34.5L762.21,38.7M762.21,224.3L762.21,220.1M768.74,34.5L768.74,36.6M768.74,224.3L768.74,222.2M775.27,34.5L775.27,36.6M775.27,224.3L775.27,222.2M781.8,34.5L781.8,36.6M781.8,224.3L781.8,222.2M788.33,34.5L788.33,36.6M788.33,224.3L788.33,222.2M794.86,34.5L794.86,38.7M794.86,224.3L794.86,220.1M801.39,34.5L801.39,36.6M801.39,224.3L801.39,222.2M807.92,34.5L807.92,36.6M807.92,224.3L807.92,222.2M643.03,274.5L643.03,276.5M643.03,449L643.03,447M654.46,274.5L654.46,276.5M654.46,449L654.46,447M665.88,274.5L665.88,276.5M665.88,449L665.88,447M677.31,274.5L677.31,278.7M677.31,449L677.31,444.8M688.74,274.5L688.74,276.5M688.74,449L688.74,447M700.17,274.5L700.17,276.5M700.17,449L700.17,447M711.6,274.5L711.6,276.5M711.6,449L711.6,447M723.02,274.5L723.02,278.7M723.02,449L723.02,444.8M734.45,274.5L734.45,276.5M734.45,449L734.45,447M745.88,274.5L745.88,276.5M745.88,449L745.88,447M757.31,274.5L757.31,276.5M757.31,449L757.31,447M768.74,274.5L768.74,278.7M768.74,449L768.74,444.8M780.17,274.5L780.17,276.5M780.17,449L780.17,447M791.59,274.5L791.59,276.5M791.59,449L791.59,447M803.02,274.5L803.02,276.5M803.02,449L803.02,447M83.05,34.5L87.25,34.5M265.9,34.5L261.7,34.5M83.05,37.95L85.15,37.95M265.9,37.95L263.8,37.95M83.05,41.4L85.15,41.4M265.9,41.4L263.8,41.4M83.05,44.85L85.15,44.85M265.9,44.85L263.8,44.85M83.05,48.3L85.15,48.3M265.9,48.3L263.8,48.3M83.05,51.75L85.15,51.75M265.9,51.75L263.8,51.75M83.05,55.2L85.15,55.2M265.9,55.2L263.8,55.2M83.05,58.65L85.15,58.65M265.9,58.65L263.8,58.65M83.05,62.1L85.15,62.1M265.9,62.1L263.8,62.1M83.05,65.55L85.15,65.55M265.9,65.55L263.8,65.55M83.05,69L87.25,69M265.9,69L261.7,69M83.05,72.45L85.15,72.45M265.9,72.45L263.8,72.45M83.05,75.9L85.15,75.9M265.9,75.9L263.8,75.9M83.05,79.35L85.15,79.35M265.9,79.35L263.8,79.35M83.05,82.8L85.15,82.8M265.9,82.8L263.8,82.8M83.05,86.25L85.15,86.25M265.9,86.25L263.8,86.25M83.05,89.7L85.15,89.7M265.9,89.7L263.8,89.7M83.05,93.15L85.15,93.15M265.9,93.15L263.8,93.15M83.05,96.6L85.15,96.6M265.9,96.6L263.8,96.6M83.05,100.05L85.15,100.05M265.9,100.05L263.8,100.05M83.05,103.5L87.25,103.5M265.9,103.5L261.7,103.5M83.05,106.95L85.15,106.95M265.9,106.95L263.8,106.95M83.05,110.4L85.15,110.4M265.9,110.4L263.8,110.4M83.05,113.85L85.15,113.85M265.9,113.85L263.8,113.85M83.05,117.3L85.15,117.3M265.9,117.3L263.8,117.3M83.05,120.75L85.15,120.75M265.9,120.75L263.8,120.75M83.05,124.2L85.15,124.2M265.9,124.2L263.8,124.2M83.05,127.65L85.15,127.65M265.9,127.65L263.8,127.65M83.05,131.1L85.15,131.1M265.9,131.1L263.8,131.1M83.05,134.55L85.15,134.55M265.9,134.55L263.8,134.55M83.05,138L87.25,138M265.9,138L261.7,138M83.05,141.45L85.15,141.45M265.9,141.45L263.8,141.45M83.05,144.9L85.15,144.9M265.9,144.9L263.8,144.9M83.05,148.35L85.15,148.35M265.9,148.35L263.8,148.35M83.05,151.8L85.15,151.8M265.9,151.8L263.8,151.8M83.05,155.25L85.15,155.25M265.9,155.25L263.8,155.25M83.05,158.7L85.15,158.7M265.9,158.7L263.8,158.7M83.05,162.15L85.15,162.15M265.9,162.15L263.8,162.15M83.05,165.6L85.15,165.6M265.9,165.6L263.8,165.6M83.05,169.05L85.15,169.05M265.9,169.05L263.8,169.05M83.05,172.5L87.25,172.5M265.9,172.5L261.7,172.5M83.05,175.95L85.15,175.95M265.9,175.95L263.8,175.95M83.05,179.4L85.15,179.4M265.9,179.4L263.8,179.4M83.05,182.85L85.15,182.85M265.9,182.85L263.8,182.85M83.05,186.3L85.15,186.3M265.9,186.3L263.8,186.3M83.05,189.75L85.15,189.75M265.9,189.75L263.8,189.75M83.05,193.2L85.15,193.2M265.9,193.2L263.8,193.2M83.05,196.65L85.15,196.65M265.9,196.65L263.8,196.65M83.05,200.1L85.15,200.1M265.9,200.1L263.8,200.1M83.05,203.55L85.15,203.55M265.9,203.55L263.8,203.55M83.05,207L87.25,207M265.9,207L261.7,207M83.05,210.45L85.15,210.45M265.9,210.45L263.8,210.45M83.05,213.9L85.15,213.9M265.9,213.9L263.8,213.9M83.05,217.35L85.15,217.35M265.9,217.35L263.8,217.35M83.05,220.8L85.15,220.8M265.9,220.8L263.8,220.8M83.05,224.25L85.15,224.25M265.9,224.25L263.8,224.25M83.05,449L87.25,449M265.9,449L261.7,449M83.05,443.18L85.05,443.18M265.9,443.18L263.9,443.18M83.05,437.37L85.05,437.37M265.9,437.37L263.9,437.37M83.05,431.55L85.05,431.55M265.9,431.55L263.9,431.55M83.05,425.73L87.25,425.73M265.9,425.73L261.7,425.73M83.05,419.92L85.05,419.92M265.9,419.92L263.9,419.92M83.05,414.1L85.05,414.1M265.9,414.1L263.9,414.1M83.05,408.28L85.05,408.28M265.9,408.28L263.9,408.28M83.05,402.47L87.25,402.47M265.9,402.47L261.7,402.47M83.05,396.65L85.05,396.65M265.9,396.65L263.9,396.65M83.05,390.83L85.05,390.83M265.9,390.83L263.9,390.83M83.05,385.02L85.05,385.02M265.9,385.02L263.9,385.02M83.05,379.2L87.25,379.2M265.9,379.2L261.7,379.2M83.05,373.38L85.05,373.38M265.9,373.38L263.9,373.38M83.05,367.57L85.05,367.57M265.9,367.57L263.9,367.57M83.05,361.75L85.05,361.75M265.9,361.75L263.9,361.75M83.05,355.93L87.25,355.93M265.9,355.93L261.7,355.93M83.05,350.12L85.05,350.12M265.9,350.12L263.9,350.12M83.05,344.3L85.05,344.3M265.9,344.3L263.9,344.3M83.05,338.48L85.05,338.48M265.9,338.48L263.9,338.48M83.05,332.67L87.25,332.67M265.9,332.67L261.7,332.67M83.05,326.85L85.05,326.85M265.9,326.85L263.9,326.85M83.05,321.03L85.05,321.03M265.9,321.03L263.9,321.03M83.05,315.22L85.05,315.22M265.9,315.22L263.9,315.22M83.05,309.4L87.25,309.4M265.9,309.4L261.7,309.4M83.05,303.58L85.05,303.58M265.9,303.58L263.9,303.58M83.05,297.77L85.05,297.77M265.9,297.77L263.9,297.77M83.05,291.95L85.05,291.95M265.9,291.95L263.9,291.95M83.05,286.13L87.25,286.13M265.9,286.13L261.7,286.13M83.05,280.32L85.05,280.32M265.9,280.32L263.9,280.32" stroke="#000" stroke-width="1.25" fill="none"/>
<path d="M83.05,34.5H814.45M83.05,224.3H814.45M83.05,33.8V225M265.9,33.8V225M448.75,33.8V225M631.6,33.8V225M83.05,274.5H814.45M83.05,449.0H814.45M83.05,273.8V449.7M265.9,273.8V449.7M448.75,273.8V449.7M631.6,273.8V449.7" stroke="#000" stroke-width="1.7" fill="none"/>
<path d="M814.25,33.8V225M814.25,273.8V449.7" stroke="#000" stroke-width="1.4" fill="none"/>
<text x="173.67" y="28.4" font-size="14" text-anchor="middle" textLength="77" lengthAdjust="spacing">[Fe/H]=−3</text>
<text x="115.1" y="240.8" font-size="12" text-anchor="middle" textLength="27" lengthAdjust="spacing">5500</text>
<text x="147.75" y="240.8" font-size="12" text-anchor="middle" textLength="27" lengthAdjust="spacing">5000</text>
<text x="180.41" y="240.8" font-size="12" text-anchor="middle" textLength="27" lengthAdjust="spacing">4500</text>
<text x="213.06" y="240.8" font-size="12" text-anchor="middle" textLength="27" lengthAdjust="spacing">4000</text>
<text x="245.71" y="240.8" font-size="12" text-anchor="middle" textLength="27" lengthAdjust="spacing">3500</text>
<text x="174.47" y="253.9" font-size="12" text-anchor="middle" textLength="42.4" lengthAdjust="spacing">Teff (K)</text>
<text x="83.05" y="465.8" font-size="12" text-anchor="middle">0</text>
<text x="128.76" y="465.8" font-size="12" text-anchor="middle" textLength="27.3" lengthAdjust="spacing">2000</text>
<text x="174.47" y="465.8" font-size="12" text-anchor="middle" textLength="27.3" lengthAdjust="spacing">4000</text>
<text x="220.19" y="465.8" font-size="12" text-anchor="middle" textLength="27.3" lengthAdjust="spacing">6000</text>
<text font-size="12" y="479.1"><tspan x="104.85" textLength="38.9" lengthAdjust="spacingAndGlyphs">EW(CaII</tspan><tspan x="143.95" y="482.4" font-size="8" font-weight="bold" textLength="17.6" lengthAdjust="spacing">8542</tspan><tspan x="162.05" y="479.1" textLength="27.6" lengthAdjust="spacingAndGlyphs">+CaII</tspan><tspan x="190.05" y="482.4" font-size="8" font-weight="bold" textLength="17.6" lengthAdjust="spacing">8662</tspan><tspan x="208.05" y="479.1">)</tspan><tspan x="218.05" y="479.1" textLength="25.7" lengthAdjust="spacing">(mA)</tspan></text>
<text x="356.52" y="28.4" font-size="14" text-anchor="middle" textLength="77" lengthAdjust="spacing">[Fe/H]=−2</text>
<text x="297.95" y="240.8" font-size="12" text-anchor="middle" textLength="27" lengthAdjust="spacing">5500</text>
<text x="330.6" y="240.8" font-size="12" text-anchor="middle" textLength="27" lengthAdjust="spacing">5000</text>
<text x="363.26" y="240.8" font-size="12" text-anchor="middle" textLength="27" lengthAdjust="spacing">4500</text>
<text x="395.91" y="240.8" font-size="12" text-anchor="middle" textLength="27" lengthAdjust="spacing">4000</text>
<text x="428.56" y="240.8" font-size="12" text-anchor="middle" textLength="27" lengthAdjust="spacing">3500</text>
<text x="357.32" y="253.9" font-size="12" text-anchor="middle" textLength="42.4" lengthAdjust="spacing">Teff (K)</text>
<text x="265.7" y="465.8" font-size="12" text-anchor="middle">0</text>
<text x="311.41" y="465.8" font-size="12" text-anchor="middle" textLength="27.3" lengthAdjust="spacing">2000</text>
<text x="357.12" y="465.8" font-size="12" text-anchor="middle" textLength="27.3" lengthAdjust="spacing">4000</text>
<text x="402.84" y="465.8" font-size="12" text-anchor="middle" textLength="27.3" lengthAdjust="spacing">6000</text>
<text font-size="12" y="479.1"><tspan x="287.4" textLength="38.9" lengthAdjust="spacingAndGlyphs">EW(CaII</tspan><tspan x="326.5" y="482.4" font-size="8" font-weight="bold" textLength="17.6" lengthAdjust="spacing">8542</tspan><tspan x="344.6" y="479.1" textLength="27.6" lengthAdjust="spacingAndGlyphs">+CaII</tspan><tspan x="372.6" y="482.4" font-size="8" font-weight="bold" textLength="17.6" lengthAdjust="spacing">8662</tspan><tspan x="390.6" y="479.1">)</tspan><tspan x="400.6" y="479.1" textLength="25.7" lengthAdjust="spacing">(mA)</tspan></text>
<text x="539.38" y="28.4" font-size="14" text-anchor="middle" textLength="77" lengthAdjust="spacing">[Fe/H]=−1</text>
<text x="480.8" y="240.8" font-size="12" text-anchor="middle" textLength="27" lengthAdjust="spacing">5500</text>
<text x="513.45" y="240.8" font-size="12" text-anchor="middle" textLength="27" lengthAdjust="spacing">5000</text>
<text x="546.11" y="240.8" font-size="12" text-anchor="middle" textLength="27" lengthAdjust="spacing">4500</text>
<text x="578.76" y="240.8" font-size="12" text-anchor="middle" textLength="27" lengthAdjust="spacing">4000</text>
<text x="611.41" y="240.8" font-size="12" text-anchor="middle" textLength="27" lengthAdjust="spacing">3500</text>
<text x="540.17" y="253.9" font-size="12" text-anchor="middle" textLength="42.4" lengthAdjust="spacing">Teff (K)</text>
<text x="448.35" y="465.8" font-size="12" text-anchor="middle">0</text>
<text x="494.06" y="465.8" font-size="12" text-anchor="middle" textLength="27.3" lengthAdjust="spacing">2000</text>
<text x="539.77" y="465.8" font-size="12" text-anchor="middle" textLength="27.3" lengthAdjust="spacing">4000</text>
<text x="585.49" y="465.8" font-size="12" text-anchor="middle" textLength="27.3" lengthAdjust="spacing">6000</text>
<text font-size="12" y="479.1"><tspan x="469.95" textLength="38.9" lengthAdjust="spacingAndGlyphs">EW(CaII</tspan><tspan x="509.05" y="482.4" font-size="8" font-weight="bold" textLength="17.6" lengthAdjust="spacing">8542</tspan><tspan x="527.15" y="479.1" textLength="27.6" lengthAdjust="spacingAndGlyphs">+CaII</tspan><tspan x="555.15" y="482.4" font-size="8" font-weight="bold" textLength="17.6" lengthAdjust="spacing">8662</tspan><tspan x="573.15" y="479.1">)</tspan><tspan x="583.15" y="479.1" textLength="25.7" lengthAdjust="spacing">(mA)</tspan></text>
<text x="722.52" y="28.4" font-size="14" text-anchor="middle" textLength="67" lengthAdjust="spacing">[Fe/H]=0</text>
<text x="663.65" y="240.8" font-size="12" text-anchor="middle" textLength="27" lengthAdjust="spacing">5500</text>
<text x="696.3" y="240.8" font-size="12" text-anchor="middle" textLength="27" lengthAdjust="spacing">5000</text>
<text x="728.96" y="240.8" font-size="12" text-anchor="middle" textLength="27" lengthAdjust="spacing">4500</text>
<text x="761.61" y="240.8" font-size="12" text-anchor="middle" textLength="27" lengthAdjust="spacing">4000</text>
<text x="794.26" y="240.8" font-size="12" text-anchor="middle" textLength="27" lengthAdjust="spacing">3500</text>
<text x="723.02" y="253.9" font-size="12" text-anchor="middle" textLength="42.4" lengthAdjust="spacing">Teff (K)</text>
<text x="631" y="465.8" font-size="12" text-anchor="middle">0</text>
<text x="676.71" y="465.8" font-size="12" text-anchor="middle" textLength="27.3" lengthAdjust="spacing">2000</text>
<text x="722.42" y="465.8" font-size="12" text-anchor="middle" textLength="27.3" lengthAdjust="spacing">4000</text>
<text x="768.14" y="465.8" font-size="12" text-anchor="middle" textLength="27.3" lengthAdjust="spacing">6000</text>
<text font-size="12" y="479.1"><tspan x="652.5" textLength="38.9" lengthAdjust="spacingAndGlyphs">EW(CaII</tspan><tspan x="691.6" y="482.4" font-size="8" font-weight="bold" textLength="17.6" lengthAdjust="spacing">8542</tspan><tspan x="709.7" y="479.1" textLength="27.6" lengthAdjust="spacingAndGlyphs">+CaII</tspan><tspan x="737.7" y="482.4" font-size="8" font-weight="bold" textLength="17.6" lengthAdjust="spacing">8662</tspan><tspan x="755.7" y="479.1">)</tspan><tspan x="765.7" y="479.1" textLength="25.7" lengthAdjust="spacing">(mA)</tspan></text>
<text x="813.85" y="465.8" font-size="12" text-anchor="middle" textLength="27.3" lengthAdjust="spacing">8000</text>
<text x="69.9" y="45.2" font-size="15.6" textLength="7.7" lengthAdjust="spacingAndGlyphs">0</text>
<text x="69.9" y="75" font-size="15.6" textLength="7.7" lengthAdjust="spacingAndGlyphs">1</text>
<text x="69.9" y="109.5" font-size="15.6" textLength="7.7" lengthAdjust="spacingAndGlyphs">2</text>
<text x="69.9" y="144" font-size="15.6" textLength="7.7" lengthAdjust="spacingAndGlyphs">3</text>
<text x="69.9" y="178.5" font-size="15.6" textLength="7.7" lengthAdjust="spacingAndGlyphs">4</text>
<text x="69.9" y="213" font-size="15.6" textLength="7.7" lengthAdjust="spacingAndGlyphs">5</text>
<text x="78.3" y="449" font-size="14" text-anchor="end">0</text>
<text x="78.3" y="431.73" font-size="14" text-anchor="end" textLength="26.25" lengthAdjust="spacing">200</text>
<text x="78.3" y="408.47" font-size="14" text-anchor="end" textLength="26.25" lengthAdjust="spacing">400</text>
<text x="78.3" y="385.2" font-size="14" text-anchor="end" textLength="26.25" lengthAdjust="spacing">600</text>
<text x="78.3" y="361.93" font-size="14" text-anchor="end" textLength="26.25" lengthAdjust="spacing">800</text>
<text x="78.3" y="338.67" font-size="14" text-anchor="end" textLength="35" lengthAdjust="spacing">1000</text>
<text x="78.3" y="315.4" font-size="14" text-anchor="end" textLength="35" lengthAdjust="spacing">1200</text>
<text x="78.3" y="292.13" font-size="14" text-anchor="end" textLength="35" lengthAdjust="spacing">1400</text>
<text font-size="14" transform="translate(56.3,173) rotate(-90)"><tspan x="0" textLength="17.3" lengthAdjust="spacing">log</tspan><tspan x="28.5" textLength="57.5" lengthAdjust="spacing">(gravity)</tspan></text>
<text font-size="14" transform="translate(31,421) rotate(-90)"><tspan x="0" textLength="43.5" lengthAdjust="spacingAndGlyphs">EW(MgI</tspan><tspan x="45.7" y="5" font-size="8.5" font-weight="bold" textLength="20.6" lengthAdjust="spacing">8807</tspan><tspan x="67" y="0">)</tspan><tspan x="86" y="0" textLength="33" lengthAdjust="spacing">(mA)</tspan></text>
<path d="M83.05,414.1 L169.9,414.1 L265.9,286.13" fill="none" stroke="#000" stroke-width="1.35" stroke-dasharray="6.6 6.6" clip-path="url(#cb0)"/>
<path d="M265.9,414.1 L352.75,414.1 L448.75,286.13" fill="none" stroke="#000" stroke-width="1.35" stroke-dasharray="6.6 6.6" clip-path="url(#cb1)"/>
<path d="M448.75,414.1 L535.6,414.1 L631.6,286.13" fill="none" stroke="#000" stroke-width="1.35" stroke-dasharray="6.6 6.6" clip-path="url(#cb2)"/>
<path d="M631.6,414.1 L718.45,414.1 L814.45,286.13" fill="none" stroke="#000" stroke-width="1.35" stroke-dasharray="6.6 6.6" clip-path="url(#cb3)"/>
<path d="M122.7,432H134.7M128.7,426V438M123.6,426.9L133.8,437.1M123.6,437.1L133.8,426.9" fill="none" stroke="#ff0000" stroke-width="2.0"/>
<path d="M126.5,429H138.5M132.5,423V435M127.4,423.9L137.6,434.1M127.4,434.1L137.6,423.9" fill="none" stroke="#ff0000" stroke-width="2.0"/>
<path d="M130.4,425.3H142.4M136.4,419.3V431.3M131.3,420.2L141.5,430.4M131.3,430.4L141.5,420.2" fill="none" stroke="#ff0000" stroke-width="2.0"/>
<path d="M134,424H146M140,418V430M134.9,418.9L145.1,429.1M134.9,429.1L145.1,418.9" fill="none" stroke="#ff0000" stroke-width="2.0"/>
<path d="M137,422H149M143,416V428M137.9,416.9L148.1,427.1M137.9,427.1L148.1,416.9" fill="none" stroke="#ff0000" stroke-width="2.0"/>
<path d="M140,421.5H152M146,415.5V427.5M140.9,416.4L151.1,426.6M140.9,426.6L151.1,416.4" fill="none" stroke="#ff0000" stroke-width="2.0"/>
<path d="M142.5,420.4H154.5M148.5,414.4V426.4M143.4,415.3L153.6,425.5M143.4,425.5L153.6,415.3" fill="none" stroke="#ff0000" stroke-width="2.0"/>
<path d="M144.7,423.7H156.7M150.7,417.7V429.7M145.6,418.6L155.8,428.8M145.6,428.8L155.8,418.6" fill="none" stroke="#ff0000" stroke-width="2.0"/>
<path d="M156.3,419.3H168.3M162.3,413.3V425.3M157.2,414.2L167.4,424.4M157.2,424.4L167.4,414.2" fill="none" stroke="#ff0000" stroke-width="2.0"/>
<path d="M119,434.5H131M125,428.5V440.5M119.9,429.4L130.1,439.6M119.9,439.6L130.1,429.4" fill="none" stroke="#ff0000" stroke-width="2.0"/>
<path d="M132,427.5H144M138,421.5V433.5M132.9,422.4L143.1,432.6M132.9,432.6L143.1,422.4" fill="none" stroke="#ff0000" stroke-width="2.0"/>
<path d="M106.4,446.94 L111.5,437.65 L116.6,446.94 Z" fill="none" stroke="#00ff00" stroke-width="2.0" stroke-linejoin="miter"/>
<path d="M112.9,444.94 L118,435.65 L123.1,444.94 Z" fill="none" stroke="#00ff00" stroke-width="2.0" stroke-linejoin="miter"/>
<path d="M120.2,441.94 L125.3,432.65 L130.4,441.94 Z" fill="none" stroke="#00ff00" stroke-width="2.0" stroke-linejoin="miter"/>
<path d="M124.4,442.94 L129.5,433.65 L134.6,442.94 Z" fill="none" stroke="#00ff00" stroke-width="2.0" stroke-linejoin="miter"/>
<path d="M127.9,440.84 L133,431.55 L138.1,440.84 Z" fill="none" stroke="#00ff00" stroke-width="2.0" stroke-linejoin="miter"/>
<path d="M131.4,441.94 L136.5,432.65 L141.6,441.94 Z" fill="none" stroke="#00ff00" stroke-width="2.0" stroke-linejoin="miter"/>
<path d="M136.8,437.44 L141.9,428.15 L147,437.44 Z" fill="none" stroke="#00ff00" stroke-width="2.0" stroke-linejoin="miter"/>
<path d="M105.9,441 L111,435.9 L116.1,441 L111,446.1 Z" fill="none" stroke="#0000ff" stroke-width="2.1" stroke-linejoin="miter"/>
<path d="M107.4,440.2 L112.5,435.1 L117.6,440.2 L112.5,445.3 Z" fill="none" stroke="#0000ff" stroke-width="2.1" stroke-linejoin="miter"/>
<path d="M112.5,438.6 L117.6,433.5 L122.7,438.6 L117.6,443.7 Z" fill="none" stroke="#0000ff" stroke-width="2.1" stroke-linejoin="miter"/>
<path d="M340.3,400H349.7M345,395.3V404.7M341,396L349,404M341,404L349,396" fill="none" stroke="#ff0000" stroke-width="2.0"/>
<path d="M340.8,405H350.2M345.5,400.3V409.7M341.5,401L349.5,409M341.5,409L349.5,401" fill="none" stroke="#ff0000" stroke-width="2.0"/>
<path d="M341.3,410H350.7M346,405.3V414.7M342,406L350,414M342,414L350,406" fill="none" stroke="#ff0000" stroke-width="2.0"/>
<path d="M339.8,414H349.2M344.5,409.3V418.7M340.5,410L348.5,418M340.5,418L348.5,410" fill="none" stroke="#ff0000" stroke-width="2.0"/>
<path d="M338.3,419H347.7M343,414.3V423.7M339,415L347,423M339,423L347,415" fill="none" stroke="#ff0000" stroke-width="2.0"/>
<path d="M337.3,423H346.7M342,418.3V427.7M338,419L346,427M338,427L346,419" fill="none" stroke="#ff0000" stroke-width="2.0"/>
<path d="M345.3,394H354.7M350,389.3V398.7M346,390L354,398M346,398L354,390" fill="none" stroke="#ff0000" stroke-width="2.0"/>
<path d="M349.3,393H358.7M354,388.3V397.7M350,389L358,397M350,397L358,389" fill="none" stroke="#ff0000" stroke-width="2.0"/>
<path d="M353.3,392.5H362.7M358,387.8V397.2M354,388.5L362,396.5M354,396.5L362,388.5" fill="none" stroke="#ff0000" stroke-width="2.0"/>
<path d="M357.3,391.5H366.7M362,386.8V396.2M358,387.5L366,395.5M358,395.5L366,387.5" fill="none" stroke="#ff0000" stroke-width="2.0"/>
<path d="M361.3,391H370.7M366,386.3V395.7M362,387L370,395M362,395L370,387" fill="none" stroke="#ff0000" stroke-width="2.0"/>
<path d="M367.7,391.3H377.1M372.4,386.6V396M368.4,387.31L376.39,395.3M368.4,395.3L376.39,387.31" fill="none" stroke="#ff0000" stroke-width="2.0"/>
<path d="M344.3,398H353.7M349,393.3V402.7M345,394L353,402M345,402L353,394" fill="none" stroke="#ff0000" stroke-width="2.0"/>
<path d="M347.3,401H356.7M352,396.3V405.7M348,397L356,405M348,405L356,397" fill="none" stroke="#ff0000" stroke-width="2.0"/>
<path d="M345.3,405H354.7M350,400.3V409.7M346,401L354,409M346,409L354,401" fill="none" stroke="#ff0000" stroke-width="2.0"/>
<path d="M348.3,397H357.7M353,392.3V401.7M349,393L357,401M349,401L357,393" fill="none" stroke="#ff0000" stroke-width="2.0"/>
<path d="M351.3,396H360.7M356,391.3V400.7M352,392L360,400M352,400L360,392" fill="none" stroke="#ff0000" stroke-width="2.0"/>
<path d="M350.3,400H359.7M355,395.3V404.7M351,396L359,404M351,404L359,396" fill="none" stroke="#ff0000" stroke-width="2.0"/>
<path d="M353.3,398H362.7M358,393.3V402.7M354,394L362,402M354,402L362,394" fill="none" stroke="#ff0000" stroke-width="2.0"/>
<path d="M355.3,395H364.7M360,390.3V399.7M356,391L364,399M356,399L364,391" fill="none" stroke="#ff0000" stroke-width="2.0"/>
<path d="M357.3,396H366.7M362,391.3V400.7M358,392L366,400M358,400L366,392" fill="none" stroke="#ff0000" stroke-width="2.0"/>
<path d="M347.3,408H356.7M352,403.3V412.7M348,404L356,412M348,412L356,404" fill="none" stroke="#ff0000" stroke-width="2.0"/>
<path d="M350.3,405H359.7M355,400.3V409.7M351,401L359,409M351,409L359,401" fill="none" stroke="#ff0000" stroke-width="2.0"/>
<path d="M352.3,402H361.7M357,397.3V406.7M353,398L361,406M353,406L361,398" fill="none" stroke="#ff0000" stroke-width="2.0"/>
<path d="M355.3,400H364.7M360,395.3V404.7M356,396L364,404M356,404L364,396" fill="none" stroke="#ff0000" stroke-width="2.0"/>
<path d="M343.3,412H352.7M348,407.3V416.7M344,408L352,416M344,416L352,408" fill="none" stroke="#ff0000" stroke-width="2.0"/>
<path d="M346.3,411H355.7M351,406.3V415.7M347,407L355,415M347,415L355,407" fill="none" stroke="#ff0000" stroke-width="2.0"/>
<path d="M349.3,408H358.7M354,403.3V412.7M350,404L358,412M350,412L358,404" fill="none" stroke="#ff0000" stroke-width="2.0"/>
<path d="M358.3,394H367.7M363,389.3V398.7M359,390L367,398M359,398L367,390" fill="none" stroke="#ff0000" stroke-width="2.0"/>
<path d="M342.3,417H351.7M347,412.3V421.7M343,413L351,421M343,421L351,413" fill="none" stroke="#ff0000" stroke-width="2.0"/>
<path d="M344.3,415H353.7M349,410.3V419.7M345,411L353,419M345,419L353,411" fill="none" stroke="#ff0000" stroke-width="2.0"/>
<path d="M340.3,409H349.7M345,404.3V413.7M341,405L349,413M341,413L349,405" fill="none" stroke="#ff0000" stroke-width="2.0"/>
<path d="M335.8,421.5H345.2M340.5,416.8V426.2M336.5,417.5L344.5,425.5M336.5,425.5L344.5,417.5" fill="none" stroke="#ff0000" stroke-width="2.0"/>
<path d="M338.8,425H348.2M343.5,420.3V429.7M339.5,421L347.5,429M339.5,429L347.5,421" fill="none" stroke="#ff0000" stroke-width="2.0"/>
<path d="M341.8,421H351.2M346.5,416.3V425.7M342.5,417L350.5,425M342.5,425L350.5,417" fill="none" stroke="#ff0000" stroke-width="2.0"/>
<path d="M354.3,407.5H363.7M359,402.8V412.2M355,403.5L363,411.5M355,411.5L363,403.5" fill="none" stroke="#ff0000" stroke-width="2.0"/>
<path d="M363.3,392.5H372.7M368,387.8V397.2M364,388.5L372,396.5M364,396.5L372,388.5" fill="none" stroke="#ff0000" stroke-width="2.0"/>
<path d="M342.3,396.5H351.7M347,391.8V401.2M343,392.5L351,400.5M343,400.5L351,392.5" fill="none" stroke="#ff0000" stroke-width="2.0"/>
<path d="M332.97,435.58 L338.07,426.3 L343.17,435.58 Z" fill="none" stroke="#00ff00" stroke-width="2.0" stroke-linejoin="miter"/>
<path d="M338.58,429.96 L343.68,420.68 L348.78,429.96 Z" fill="none" stroke="#00ff00" stroke-width="2.0" stroke-linejoin="miter"/>
<path d="M342.09,433.47 L347.19,424.19 L352.29,433.47 Z" fill="none" stroke="#00ff00" stroke-width="2.0" stroke-linejoin="miter"/>
<path d="M345.6,431.37 L350.7,422.08 L355.8,431.37 Z" fill="none" stroke="#00ff00" stroke-width="2.0" stroke-linejoin="miter"/>
<path d="M349.81,422.95 L354.91,413.66 L360.01,422.95 Z" fill="none" stroke="#00ff00" stroke-width="2.0" stroke-linejoin="miter"/>
<path d="M356.83,424.35 L361.93,415.07 L367.03,424.35 Z" fill="none" stroke="#00ff00" stroke-width="2.0" stroke-linejoin="miter"/>
<path d="M354.72,415.23 L359.82,405.94 L364.92,415.23 Z" fill="none" stroke="#00ff00" stroke-width="2.0" stroke-linejoin="miter"/>
<path d="M368.76,415.23 L373.86,405.94 L378.96,415.23 Z" fill="none" stroke="#00ff00" stroke-width="2.0" stroke-linejoin="miter"/>
<path d="M321.74,431.14 L326.84,426.04 L331.94,431.14 L326.84,436.24 Z" fill="none" stroke="#0000ff" stroke-width="2.1" stroke-linejoin="miter"/>
<path d="M320.9,431.98 L326,426.88 L331.1,431.98 L326,437.08 Z" fill="none" stroke="#0000ff" stroke-width="2.1" stroke-linejoin="miter"/>
<path d="M330.86,427.63 L335.96,422.53 L341.06,427.63 L335.96,432.73 Z" fill="none" stroke="#0000ff" stroke-width="2.1" stroke-linejoin="miter"/>
<path d="M546.97,382.05H556.97M551.97,377.05V387.05M547.72,377.8L556.22,386.3M547.72,386.3L556.22,377.8" fill="none" stroke="#ff0000" stroke-width="2.0"/>
<path d="M557.84,364.35H567.84M562.84,359.35V369.35M558.59,360.1L567.09,368.6M558.59,368.6L567.09,360.1" fill="none" stroke="#ff0000" stroke-width="2.0"/>
<path d="M547.88,379.77H557.88M552.88,374.77V384.77M548.63,375.52L557.13,384.02M548.63,384.02L557.13,375.52" fill="none" stroke="#ff0000" stroke-width="2.0"/>
<path d="M568.37,355.16H578.37M573.37,350.16V360.16M569.12,350.91L577.62,359.41M569.12,359.41L577.62,350.91" fill="none" stroke="#ff0000" stroke-width="2.0"/>
<path d="M562.62,366.47H572.62M567.62,361.47V371.47M563.37,362.22L571.87,370.72M563.37,370.72L571.87,362.22" fill="none" stroke="#ff0000" stroke-width="2.0"/>
<path d="M561.14,361.82H571.14M566.14,356.82V366.82M561.89,357.57L570.39,366.07M561.89,366.07L570.39,357.57" fill="none" stroke="#ff0000" stroke-width="2.0"/>
<path d="M548.22,377.29H558.22M553.22,372.29V382.29M548.97,373.04L557.47,381.54M548.97,381.54L557.47,373.04" fill="none" stroke="#ff0000" stroke-width="2.0"/>
<path d="M566.05,363.32H576.05M571.05,358.32V368.32M566.8,359.07L575.3,367.57M566.8,367.57L575.3,359.07" fill="none" stroke="#ff0000" stroke-width="2.0"/>
<path d="M553.72,376.96H563.72M558.72,371.96V381.96M554.47,372.71L562.97,381.21M554.47,381.21L562.97,372.71" fill="none" stroke="#ff0000" stroke-width="2.0"/>
<path d="M567.16,352.2H577.16M572.16,347.2V357.2M567.91,347.95L576.41,356.45M567.91,356.45L576.41,347.95" fill="none" stroke="#ff0000" stroke-width="2.0"/>
<path d="M572.72,349.84H582.72M577.72,344.84V354.84M573.47,345.59L581.97,354.09M573.47,354.09L581.97,345.59" fill="none" stroke="#ff0000" stroke-width="2.0"/>
<path d="M555.75,369.94H565.75M560.75,364.94V374.94M556.5,365.69L565,374.19M556.5,374.19L565,365.69" fill="none" stroke="#ff0000" stroke-width="2.0"/>
<path d="M561.35,369.19H571.35M566.35,364.19V374.19M562.1,364.94L570.6,373.44M562.1,373.44L570.6,364.94" fill="none" stroke="#ff0000" stroke-width="2.0"/>
<path d="M571.26,356.09H581.26M576.26,351.09V361.09M572.01,351.84L580.51,360.34M572.01,360.34L580.51,351.84" fill="none" stroke="#ff0000" stroke-width="2.0"/>
<path d="M571.83,356.74H581.83M576.83,351.74V361.74M572.58,352.49L581.08,360.99M572.58,360.99L581.08,352.49" fill="none" stroke="#ff0000" stroke-width="2.0"/>
<path d="M563.41,360.47H573.41M568.41,355.47V365.47M564.16,356.22L572.66,364.72M564.16,364.72L572.66,356.22" fill="none" stroke="#ff0000" stroke-width="2.0"/>
<path d="M547.75,379.28H557.75M552.75,374.28V384.28M548.5,375.03L557,383.53M548.5,383.53L557,375.03" fill="none" stroke="#ff0000" stroke-width="2.0"/>
<path d="M542.85,388.29H552.85M547.85,383.29V393.29M543.6,384.04L552.1,392.54M543.6,392.54L552.1,384.04" fill="none" stroke="#ff0000" stroke-width="2.0"/>
<path d="M551,379.14H561M556,374.14V384.14M551.75,374.89L560.25,383.39M551.75,383.39L560.25,374.89" fill="none" stroke="#ff0000" stroke-width="2.0"/>
<path d="M558.97,363.6H568.97M563.97,358.6V368.6M559.72,359.35L568.22,367.85M559.72,367.85L568.22,359.35" fill="none" stroke="#ff0000" stroke-width="2.0"/>
<path d="M571.7,356.91H581.7M576.7,351.91V361.91M572.45,352.66L580.95,361.16M572.45,361.16L580.95,352.66" fill="none" stroke="#ff0000" stroke-width="2.0"/>
<path d="M548.1,376.08H558.1M553.1,371.08V381.08M548.85,371.83L557.35,380.33M548.85,380.33L557.35,371.83" fill="none" stroke="#ff0000" stroke-width="2.0"/>
<path d="M545.53,382.3H555.53M550.53,377.3V387.3M546.28,378.05L554.78,386.55M546.28,386.55L554.78,378.05" fill="none" stroke="#ff0000" stroke-width="2.0"/>
<path d="M541.28,392.34H551.28M546.28,387.34V397.34M542.03,388.09L550.53,396.59M542.03,396.59L550.53,388.09" fill="none" stroke="#ff0000" stroke-width="2.0"/>
<path d="M569.68,353.09H579.68M574.68,348.09V358.09M570.43,348.84L578.93,357.34M570.43,357.34L578.93,348.84" fill="none" stroke="#ff0000" stroke-width="2.0"/>
<path d="M561.9,364.88H571.9M566.9,359.88V369.88M562.65,360.63L571.15,369.13M562.65,369.13L571.15,360.63" fill="none" stroke="#ff0000" stroke-width="2.0"/>
<path d="M571.69,352.1H581.69M576.69,347.1V357.1M572.44,347.85L580.94,356.35M572.44,356.35L580.94,347.85" fill="none" stroke="#ff0000" stroke-width="2.0"/>
<path d="M547.34,381.05H557.34M552.34,376.05V386.05M548.09,376.8L556.59,385.3M548.09,385.3L556.59,376.8" fill="none" stroke="#ff0000" stroke-width="2.0"/>
<path d="M555.81,366.88H565.81M560.81,361.88V371.88M556.56,362.63L565.06,371.13M556.56,371.13L565.06,362.63" fill="none" stroke="#ff0000" stroke-width="2.0"/>
<path d="M540.19,390.38H550.19M545.19,385.38V395.38M540.94,386.13L549.44,394.63M540.94,394.63L549.44,386.13" fill="none" stroke="#ff0000" stroke-width="2.0"/>
<path d="M561.06,364.54H571.06M566.06,359.54V369.54M561.81,360.29L570.31,368.79M561.81,368.79L570.31,360.29" fill="none" stroke="#ff0000" stroke-width="2.0"/>
<path d="M563.48,361.39H573.48M568.48,356.39V366.39M564.23,357.14L572.73,365.64M564.23,365.64L572.73,357.14" fill="none" stroke="#ff0000" stroke-width="2.0"/>
<path d="M563.84,364.38H573.84M568.84,359.38V369.38M564.59,360.13L573.09,368.63M564.59,368.63L573.09,360.13" fill="none" stroke="#ff0000" stroke-width="2.0"/>
<path d="M558.52,365.43H568.52M563.52,360.43V370.43M559.27,361.18L567.77,369.68M559.27,369.68L567.77,361.18" fill="none" stroke="#ff0000" stroke-width="2.0"/>
<path d="M551.64,376.09H561.64M556.64,371.09V381.09M552.39,371.84L560.89,380.34M552.39,380.34L560.89,371.84" fill="none" stroke="#ff0000" stroke-width="2.0"/>
<path d="M564.11,357.71H574.11M569.11,352.71V362.71M564.86,353.46L573.36,361.96M564.86,361.96L573.36,353.46" fill="none" stroke="#ff0000" stroke-width="2.0"/>
<path d="M549.17,377.03H559.17M554.17,372.03V382.03M549.92,372.78L558.42,381.28M549.92,381.28L558.42,372.78" fill="none" stroke="#ff0000" stroke-width="2.0"/>
<path d="M545.49,382.7H555.49M550.49,377.7V387.7M546.24,378.45L554.74,386.95M546.24,386.95L554.74,378.45" fill="none" stroke="#ff0000" stroke-width="2.0"/>
<path d="M550.12,377.36H560.12M555.12,372.36V382.36M550.87,373.11L559.37,381.61M550.87,381.61L559.37,373.11" fill="none" stroke="#ff0000" stroke-width="2.0"/>
<path d="M567.09,354.43H577.09M572.09,349.43V359.43M567.84,350.18L576.34,358.68M567.84,358.68L576.34,350.18" fill="none" stroke="#ff0000" stroke-width="2.0"/>
<path d="M569.03,352.93H579.03M574.03,347.93V357.93M569.78,348.68L578.28,357.18M569.78,357.18L578.28,348.68" fill="none" stroke="#ff0000" stroke-width="2.0"/>
<path d="M556.78,368.89H566.78M561.78,363.89V373.89M557.53,364.64L566.03,373.14M557.53,373.14L566.03,364.64" fill="none" stroke="#ff0000" stroke-width="2.0"/>
<path d="M544.96,383.56H554.96M549.96,378.56V388.56M545.71,379.31L554.21,387.81M545.71,387.81L554.21,379.31" fill="none" stroke="#ff0000" stroke-width="2.0"/>
<path d="M565.61,356.32H575.61M570.61,351.32V361.32M566.36,352.07L574.86,360.57M566.36,360.57L574.86,352.07" fill="none" stroke="#ff0000" stroke-width="2.0"/>
<path d="M565.36,356.89H575.36M570.36,351.89V361.89M566.11,352.64L574.61,361.14M566.11,361.14L574.61,352.64" fill="none" stroke="#ff0000" stroke-width="2.0"/>
<path d="M554.07,372.78H564.07M559.07,367.78V377.78M554.82,368.53L563.32,377.03M554.82,377.03L563.32,368.53" fill="none" stroke="#ff0000" stroke-width="2.0"/>
<path d="M541.55,394.28H551.55M546.55,389.28V399.28M542.3,390.03L550.8,398.53M542.3,398.53L550.8,390.03" fill="none" stroke="#ff0000" stroke-width="2.0"/>
<path d="M556.82,374.15H566.82M561.82,369.15V379.15M557.57,369.9L566.07,378.4M557.57,378.4L566.07,369.9" fill="none" stroke="#ff0000" stroke-width="2.0"/>
<path d="M566.7,361.12H576.7M571.7,356.12V366.12M567.45,356.87L575.95,365.37M567.45,365.37L575.95,356.87" fill="none" stroke="#ff0000" stroke-width="2.0"/>
<path d="M547.6,377.95H557.6M552.6,372.95V382.95M548.35,373.7L556.85,382.2M548.35,382.2L556.85,373.7" fill="none" stroke="#ff0000" stroke-width="2.0"/>
<path d="M559.26,364.88H569.26M564.26,359.88V369.88M560.01,360.63L568.51,369.13M560.01,369.13L568.51,360.63" fill="none" stroke="#ff0000" stroke-width="2.0"/>
<path d="M572.28,354.73H582.28M577.28,349.73V359.73M573.03,350.48L581.53,358.98M573.03,358.98L581.53,350.48" fill="none" stroke="#ff0000" stroke-width="2.0"/>
<path d="M569.58,354.15H579.58M574.58,349.15V359.15M570.33,349.9L578.83,358.4M570.33,358.4L578.83,349.9" fill="none" stroke="#ff0000" stroke-width="2.0"/>
<path d="M544.3,383.87H554.3M549.3,378.87V388.87M545.05,379.62L553.55,388.12M545.05,388.12L553.55,379.62" fill="none" stroke="#ff0000" stroke-width="2.0"/>
<path d="M555.33,375.27H565.33M560.33,370.27V380.27M556.08,371.02L564.58,379.52M556.08,379.52L564.58,371.02" fill="none" stroke="#ff0000" stroke-width="2.0"/>
<path d="M549.02,382.92H559.02M554.02,377.92V387.92M549.77,378.67L558.27,387.17M549.77,387.17L558.27,378.67" fill="none" stroke="#ff0000" stroke-width="2.0"/>
<path d="M549.93,376.48H559.93M554.93,371.48V381.48M550.68,372.23L559.18,380.73M550.68,380.73L559.18,372.23" fill="none" stroke="#ff0000" stroke-width="2.0"/>
<path d="M546.89,386.21H556.89M551.89,381.21V391.21M547.64,381.96L556.14,390.46M547.64,390.46L556.14,381.96" fill="none" stroke="#ff0000" stroke-width="2.0"/>
<path d="M565.97,355.74H575.97M570.97,350.74V360.74M566.72,351.49L575.22,359.99M566.72,359.99L575.22,351.49" fill="none" stroke="#ff0000" stroke-width="2.0"/>
<path d="M538.99,389H548.99M543.99,384V394M539.74,384.75L548.24,393.25M539.74,393.25L548.24,384.75" fill="none" stroke="#ff0000" stroke-width="2.0"/>
<path d="M554.12,372.51H564.12M559.12,367.51V377.51M554.87,368.26L563.37,376.76M554.87,376.76L563.37,368.26" fill="none" stroke="#ff0000" stroke-width="2.0"/>
<path d="M538.24,387.25H548.24M543.24,382.25V392.25M538.99,383L547.49,391.5M538.99,391.5L547.49,383" fill="none" stroke="#ff0000" stroke-width="2.0"/>
<path d="M573.53,351.33H583.53M578.53,346.33V356.33M574.28,347.08L582.78,355.58M574.28,355.58L582.78,347.08" fill="none" stroke="#ff0000" stroke-width="2.0"/>
<path d="M548.72,378.03H558.72M553.72,373.03V383.03M549.47,373.78L557.97,382.28M549.47,382.28L557.97,373.78" fill="none" stroke="#ff0000" stroke-width="2.0"/>
<path d="M558.08,365.87H568.08M563.08,360.87V370.87M558.83,361.62L567.33,370.12M558.83,370.12L567.33,361.62" fill="none" stroke="#ff0000" stroke-width="2.0"/>
<path d="M543.78,386.47H553.78M548.78,381.47V391.47M544.53,382.22L553.03,390.72M544.53,390.72L553.03,382.22" fill="none" stroke="#ff0000" stroke-width="2.0"/>
<path d="M539.91,387.57H549.91M544.91,382.57V392.57M540.66,383.32L549.16,391.82M540.66,391.82L549.16,383.32" fill="none" stroke="#ff0000" stroke-width="2.0"/>
<path d="M566.45,358.21H576.45M571.45,353.21V363.21M567.2,353.96L575.7,362.46M567.2,362.46L575.7,353.96" fill="none" stroke="#ff0000" stroke-width="2.0"/>
<path d="M553.37,373.4H563.37M558.37,368.4V378.4M554.12,369.15L562.62,377.65M554.12,377.65L562.62,369.15" fill="none" stroke="#ff0000" stroke-width="2.0"/>
<path d="M554.22,373.93H564.22M559.22,368.93V378.93M554.97,369.68L563.47,378.18M554.97,378.18L563.47,369.68" fill="none" stroke="#ff0000" stroke-width="2.0"/>
<path d="M539.27,389H549.27M544.27,384V394M540.02,384.75L548.52,393.25M540.02,393.25L548.52,384.75" fill="none" stroke="#ff0000" stroke-width="2.0"/>
<path d="M538.7,393.75H548.7M543.7,388.75V398.75M539.45,389.5L547.95,398M539.45,398L547.95,389.5" fill="none" stroke="#ff0000" stroke-width="2.0"/>
<path d="M543.08,381.38H553.08M548.08,376.38V386.38M543.83,377.13L552.33,385.63M543.83,385.63L552.33,377.13" fill="none" stroke="#ff0000" stroke-width="2.0"/>
<path d="M546.89,373.77H556.89M551.89,368.77V378.77M547.64,369.52L556.14,378.02M547.64,378.02L556.14,369.52" fill="none" stroke="#ff0000" stroke-width="2.0"/>
<path d="M557.35,359.5H567.35M562.35,354.5V364.5M558.1,355.25L566.6,363.75M558.1,363.75L566.6,355.25" fill="none" stroke="#ff0000" stroke-width="2.0"/>
<path d="M559.26,355.69H569.26M564.26,350.69V360.69M560.01,351.44L568.51,359.94M560.01,359.94L568.51,351.44" fill="none" stroke="#ff0000" stroke-width="2.0"/>
<path d="M569.72,347.51H579.72M574.72,342.51V352.51M570.47,343.26L578.97,351.76M570.47,351.76L578.97,343.26" fill="none" stroke="#ff0000" stroke-width="2.0"/>
<path d="M574.86,348.46H584.86M579.86,343.46V353.46M575.61,344.21L584.11,352.71M575.61,352.71L584.11,344.21" fill="none" stroke="#ff0000" stroke-width="2.0"/>
<path d="M575.43,352.84H585.43M580.43,347.84V357.84M576.18,348.59L584.68,357.09M576.18,357.09L584.68,348.59" fill="none" stroke="#ff0000" stroke-width="2.0"/>
<path d="M572.58,358.55H582.58M577.58,353.55V363.55M573.33,354.3L581.83,362.8M573.33,362.8L581.83,354.3" fill="none" stroke="#ff0000" stroke-width="2.0"/>
<path d="M559.26,384.24H569.26M564.26,379.24V389.24M560.01,379.99L568.51,388.49M560.01,388.49L568.51,379.99" fill="none" stroke="#ff0000" stroke-width="2.0"/>
<path d="M556.4,386.14H566.4M561.4,381.14V391.14M557.15,381.89L565.65,390.39M557.15,390.39L565.65,381.89" fill="none" stroke="#ff0000" stroke-width="2.0"/>
<path d="M565.82,387.72 L570.92,378.44 L576.02,387.72 Z" fill="none" stroke="#00ff00" stroke-width="2.0" stroke-linejoin="miter"/>
<path d="M571.53,398.19 L576.63,388.91 L581.73,398.19 Z" fill="none" stroke="#00ff00" stroke-width="2.0" stroke-linejoin="miter"/>
<path d="M575.33,408.66 L580.43,399.38 L585.53,408.66 Z" fill="none" stroke="#00ff00" stroke-width="2.0" stroke-linejoin="miter"/>
<path d="M575.33,380.11 L580.43,370.83 L585.53,380.11 Z" fill="none" stroke="#00ff00" stroke-width="2.0" stroke-linejoin="miter"/>
<path d="M584.85,387.72 L589.95,378.44 L595.05,387.72 Z" fill="none" stroke="#00ff00" stroke-width="2.0" stroke-linejoin="miter"/>
<path d="M585.8,375.35 L590.9,366.07 L596,375.35 Z" fill="none" stroke="#00ff00" stroke-width="2.0" stroke-linejoin="miter"/>
<path d="M589.61,374.4 L594.71,365.12 L599.81,374.4 Z" fill="none" stroke="#00ff00" stroke-width="2.0" stroke-linejoin="miter"/>
<path d="M600.07,377.26 L605.17,367.98 L610.27,377.26 Z" fill="none" stroke="#00ff00" stroke-width="2.0" stroke-linejoin="miter"/>
<path d="M608.64,372.5 L613.74,363.22 L618.84,372.5 Z" fill="none" stroke="#00ff00" stroke-width="2.0" stroke-linejoin="miter"/>
<path d="M613.4,370.6 L618.5,361.31 L623.6,370.6 Z" fill="none" stroke="#00ff00" stroke-width="2.0" stroke-linejoin="miter"/>
<path d="M618.15,369.64 L623.25,360.36 L628.35,369.64 Z" fill="none" stroke="#00ff00" stroke-width="2.0" stroke-linejoin="miter"/>
<path d="M549.64,392.8 L554.74,387.7 L559.84,392.8 L554.74,397.9 Z" fill="none" stroke="#0000ff" stroke-width="2.1" stroke-linejoin="miter"/>
<path d="M547.74,398.51 L552.84,393.41 L557.94,398.51 L552.84,403.61 Z" fill="none" stroke="#0000ff" stroke-width="2.1" stroke-linejoin="miter"/>
<path d="M551.54,402.32 L556.64,397.22 L561.74,402.32 L556.64,407.42 Z" fill="none" stroke="#0000ff" stroke-width="2.1" stroke-linejoin="miter"/>
<path d="M548.69,406.13 L553.79,401.03 L558.89,406.13 L553.79,411.23 Z" fill="none" stroke="#0000ff" stroke-width="2.1" stroke-linejoin="miter"/>
<path d="M551.54,409.93 L556.64,404.83 L561.74,409.93 L556.64,415.03 Z" fill="none" stroke="#0000ff" stroke-width="2.1" stroke-linejoin="miter"/>
<path d="M553.45,395.66 L558.55,390.56 L563.65,395.66 L558.55,400.76 Z" fill="none" stroke="#0000ff" stroke-width="2.1" stroke-linejoin="miter"/>
<path d="M545.83,403.27 L550.93,398.17 L556.03,403.27 L550.93,408.37 Z" fill="none" stroke="#0000ff" stroke-width="2.1" stroke-linejoin="miter"/>
<path d="M553.45,406.13 L558.55,401.03 L563.65,406.13 L558.55,411.23 Z" fill="none" stroke="#0000ff" stroke-width="2.1" stroke-linejoin="miter"/>
<path d="M550.59,396.61 L555.69,391.51 L560.79,396.61 L555.69,401.71 Z" fill="none" stroke="#0000ff" stroke-width="2.1" stroke-linejoin="miter"/>
<path d="M547.74,394.71 L552.84,389.61 L557.94,394.71 L552.84,399.81 Z" fill="none" stroke="#0000ff" stroke-width="2.1" stroke-linejoin="miter"/>
<path d="M554.4,399.46 L559.5,394.36 L564.6,399.46 L559.5,404.56 Z" fill="none" stroke="#0000ff" stroke-width="2.1" stroke-linejoin="miter"/>
<path d="M561.06,390.9 L566.16,385.8 L571.26,390.9 L566.16,396 Z" fill="none" stroke="#0000ff" stroke-width="2.1" stroke-linejoin="miter"/>
<path d="M562.01,400.42 L567.11,395.32 L572.21,400.42 L567.11,405.52 Z" fill="none" stroke="#0000ff" stroke-width="2.1" stroke-linejoin="miter"/>
<path d="M562.01,408.98 L567.11,403.88 L572.21,408.98 L567.11,414.08 Z" fill="none" stroke="#0000ff" stroke-width="2.1" stroke-linejoin="miter"/>
<path d="M551.54,412.79 L556.64,407.69 L561.74,412.79 L556.64,417.89 Z" fill="none" stroke="#0000ff" stroke-width="2.1" stroke-linejoin="miter"/>
<path d="M555.35,392.8 L560.45,387.7 L565.55,392.8 L560.45,397.9 Z" fill="none" stroke="#0000ff" stroke-width="2.1" stroke-linejoin="miter"/>
<path d="M746.53,349.37H756.53M751.53,344.37V354.37M747.28,345.12L755.78,353.62M747.28,353.62L755.78,345.12" fill="none" stroke="#ff0000" stroke-width="2.0"/>
<path d="M744.25,363.2H754.25M749.25,358.2V368.2M745,358.95L753.5,367.45M745,367.45L753.5,358.95" fill="none" stroke="#ff0000" stroke-width="2.0"/>
<path d="M767.22,320.96H777.22M772.22,315.96V325.96M767.97,316.71L776.47,325.21M767.97,325.21L776.47,316.71" fill="none" stroke="#ff0000" stroke-width="2.0"/>
<path d="M725.92,382.01H735.92M730.92,377.01V387.01M726.67,377.76L735.17,386.26M726.67,386.26L735.17,377.76" fill="none" stroke="#ff0000" stroke-width="2.0"/>
<path d="M759.66,326.19H769.66M764.66,321.19V331.19M760.41,321.94L768.91,330.44M760.41,330.44L768.91,321.94" fill="none" stroke="#ff0000" stroke-width="2.0"/>
<path d="M722.16,380.16H732.16M727.16,375.16V385.16M722.91,375.91L731.41,384.41M722.91,384.41L731.41,375.91" fill="none" stroke="#ff0000" stroke-width="2.0"/>
<path d="M753.38,323.31H763.38M758.38,318.31V328.31M754.13,319.06L762.63,327.56M754.13,327.56L762.63,319.06" fill="none" stroke="#ff0000" stroke-width="2.0"/>
<path d="M761.65,319.64H771.65M766.65,314.64V324.64M762.4,315.39L770.9,323.89M762.4,323.89L770.9,315.39" fill="none" stroke="#ff0000" stroke-width="2.0"/>
<path d="M726.02,382.12H736.02M731.02,377.12V387.12M726.77,377.87L735.27,386.37M726.77,386.37L735.27,377.87" fill="none" stroke="#ff0000" stroke-width="2.0"/>
<path d="M771.94,316.63H781.94M776.94,311.63V321.63M772.69,312.38L781.19,320.88M772.69,320.88L781.19,312.38" fill="none" stroke="#ff0000" stroke-width="2.0"/>
<path d="M757.06,326.07H767.06M762.06,321.07V331.07M757.81,321.82L766.31,330.32M757.81,330.32L766.31,321.82" fill="none" stroke="#ff0000" stroke-width="2.0"/>
<path d="M757.3,329.87H767.3M762.3,324.87V334.87M758.05,325.62L766.55,334.12M758.05,334.12L766.55,325.62" fill="none" stroke="#ff0000" stroke-width="2.0"/>
<path d="M748.86,346.12H758.86M753.86,341.12V351.12M749.61,341.87L758.11,350.37M749.61,350.37L758.11,341.87" fill="none" stroke="#ff0000" stroke-width="2.0"/>
<path d="M732.02,374.75H742.02M737.02,369.75V379.75M732.77,370.5L741.27,379M732.77,379L741.27,370.5" fill="none" stroke="#ff0000" stroke-width="2.0"/>
<path d="M737.01,365.71H747.01M742.01,360.71V370.71M737.76,361.46L746.26,369.96M737.76,369.96L746.26,361.46" fill="none" stroke="#ff0000" stroke-width="2.0"/>
<path d="M722.5,380.99H732.5M727.5,375.99V385.99M723.25,376.74L731.75,385.24M723.25,385.24L731.75,376.74" fill="none" stroke="#ff0000" stroke-width="2.0"/>
<path d="M753.82,327.12H763.82M758.82,322.12V332.12M754.57,322.87L763.07,331.37M754.57,331.37L763.07,322.87" fill="none" stroke="#ff0000" stroke-width="2.0"/>
<path d="M751.57,333.92H761.57M756.57,328.92V338.92M752.32,329.67L760.82,338.17M752.32,338.17L760.82,329.67" fill="none" stroke="#ff0000" stroke-width="2.0"/>
<path d="M762.99,318.47H772.99M767.99,313.47V323.47M763.74,314.22L772.24,322.72M763.74,322.72L772.24,314.22" fill="none" stroke="#ff0000" stroke-width="2.0"/>
<path d="M767.63,319.31H777.63M772.63,314.31V324.31M768.38,315.06L776.88,323.56M768.38,323.56L776.88,315.06" fill="none" stroke="#ff0000" stroke-width="2.0"/>
<path d="M725.11,376.51H735.11M730.11,371.51V381.51M725.86,372.26L734.36,380.76M725.86,380.76L734.36,372.26" fill="none" stroke="#ff0000" stroke-width="2.0"/>
<path d="M733.69,369.93H743.69M738.69,364.93V374.93M734.44,365.68L742.94,374.18M734.44,374.18L742.94,365.68" fill="none" stroke="#ff0000" stroke-width="2.0"/>
<path d="M734.78,373.2H744.78M739.78,368.2V378.2M735.53,368.95L744.03,377.45M735.53,377.45L744.03,368.95" fill="none" stroke="#ff0000" stroke-width="2.0"/>
<path d="M746.19,340.87H756.19M751.19,335.87V345.87M746.94,336.62L755.44,345.12M746.94,345.12L755.44,336.62" fill="none" stroke="#ff0000" stroke-width="2.0"/>
<path d="M742.31,354.85H752.31M747.31,349.85V359.85M743.06,350.6L751.56,359.1M743.06,359.1L751.56,350.6" fill="none" stroke="#ff0000" stroke-width="2.0"/>
<path d="M736.3,372.15H746.3M741.3,367.15V377.15M737.05,367.9L745.55,376.4M737.05,376.4L745.55,367.9" fill="none" stroke="#ff0000" stroke-width="2.0"/>
<path d="M744.21,356.83H754.21M749.21,351.83V361.83M744.96,352.58L753.46,361.08M744.96,361.08L753.46,352.58" fill="none" stroke="#ff0000" stroke-width="2.0"/>
<path d="M760.59,324.4H770.59M765.59,319.4V329.4M761.34,320.15L769.84,328.65M761.34,328.65L769.84,320.15" fill="none" stroke="#ff0000" stroke-width="2.0"/>
<path d="M762.68,322.23H772.68M767.68,317.23V327.23M763.43,317.98L771.93,326.48M763.43,326.48L771.93,317.98" fill="none" stroke="#ff0000" stroke-width="2.0"/>
<path d="M740.97,356.36H750.97M745.97,351.36V361.36M741.72,352.11L750.22,360.61M741.72,360.61L750.22,352.11" fill="none" stroke="#ff0000" stroke-width="2.0"/>
<path d="M755.05,335.13H765.05M760.05,330.13V340.13M755.8,330.88L764.3,339.38M755.8,339.38L764.3,330.88" fill="none" stroke="#ff0000" stroke-width="2.0"/>
<path d="M725.23,376.58H735.23M730.23,371.58V381.58M725.98,372.33L734.48,380.83M725.98,380.83L734.48,372.33" fill="none" stroke="#ff0000" stroke-width="2.0"/>
<path d="M764.87,324.33H774.87M769.87,319.33V329.33M765.62,320.08L774.12,328.58M765.62,328.58L774.12,320.08" fill="none" stroke="#ff0000" stroke-width="2.0"/>
<path d="M734.82,369.2H744.82M739.82,364.2V374.2M735.57,364.95L744.07,373.45M735.57,373.45L744.07,364.95" fill="none" stroke="#ff0000" stroke-width="2.0"/>
<path d="M723.65,382.15H733.65M728.65,377.15V387.15M724.4,377.9L732.9,386.4M724.4,386.4L732.9,377.9" fill="none" stroke="#ff0000" stroke-width="2.0"/>
<path d="M748.06,343.93H758.06M753.06,338.93V348.93M748.81,339.68L757.31,348.18M748.81,348.18L757.31,339.68" fill="none" stroke="#ff0000" stroke-width="2.0"/>
<path d="M740.98,360.89H750.98M745.98,355.89V365.89M741.73,356.64L750.23,365.14M741.73,365.14L750.23,356.64" fill="none" stroke="#ff0000" stroke-width="2.0"/>
<path d="M770.57,315.76H780.57M775.57,310.76V320.76M771.32,311.51L779.82,320.01M771.32,320.01L779.82,311.51" fill="none" stroke="#ff0000" stroke-width="2.0"/>
<path d="M732.6,374.41H742.6M737.6,369.41V379.41M733.35,370.16L741.85,378.66M733.35,378.66L741.85,370.16" fill="none" stroke="#ff0000" stroke-width="2.0"/>
<path d="M765.39,316.95H775.39M770.39,311.95V321.95M766.14,312.7L774.64,321.2M766.14,321.2L774.64,312.7" fill="none" stroke="#ff0000" stroke-width="2.0"/>
<path d="M757.97,328.03H767.97M762.97,323.03V333.03M758.72,323.78L767.22,332.28M758.72,332.28L767.22,323.78" fill="none" stroke="#ff0000" stroke-width="2.0"/>
<path d="M752.03,337.41H762.03M757.03,332.41V342.41M752.78,333.16L761.28,341.66M752.78,341.66L761.28,333.16" fill="none" stroke="#ff0000" stroke-width="2.0"/>
<path d="M772.78,316.83H782.78M777.78,311.83V321.83M773.53,312.58L782.03,321.08M773.53,321.08L782.03,312.58" fill="none" stroke="#ff0000" stroke-width="2.0"/>
<path d="M743.87,353.53H753.87M748.87,348.53V358.53M744.62,349.28L753.12,357.78M744.62,357.78L753.12,349.28" fill="none" stroke="#ff0000" stroke-width="2.0"/>
<path d="M745.88,343.65H755.88M750.88,338.65V348.65M746.63,339.4L755.13,347.9M746.63,347.9L755.13,339.4" fill="none" stroke="#ff0000" stroke-width="2.0"/>
<path d="M729.39,378.83H739.39M734.39,373.83V383.83M730.14,374.58L738.64,383.08M730.14,383.08L738.64,374.58" fill="none" stroke="#ff0000" stroke-width="2.0"/>
<path d="M766.52,316.82H776.52M771.52,311.82V321.82M767.27,312.57L775.77,321.07M767.27,321.07L775.77,312.57" fill="none" stroke="#ff0000" stroke-width="2.0"/>
<path d="M749.24,341.74H759.24M754.24,336.74V346.74M749.99,337.49L758.49,345.99M749.99,345.99L758.49,337.49" fill="none" stroke="#ff0000" stroke-width="2.0"/>
<path d="M731.95,369.33H741.95M736.95,364.33V374.33M732.7,365.08L741.2,373.58M732.7,373.58L741.2,365.08" fill="none" stroke="#ff0000" stroke-width="2.0"/>
<path d="M756.6,327.66H766.6M761.6,322.66V332.66M757.35,323.41L765.85,331.91M757.35,331.91L765.85,323.41" fill="none" stroke="#ff0000" stroke-width="2.0"/>
<path d="M731.87,371.92H741.87M736.87,366.92V376.92M732.62,367.67L741.12,376.17M732.62,376.17L741.12,367.67" fill="none" stroke="#ff0000" stroke-width="2.0"/>
<path d="M743.83,351H753.83M748.83,346V356M744.58,346.75L753.08,355.25M744.58,355.25L753.08,346.75" fill="none" stroke="#ff0000" stroke-width="2.0"/>
<path d="M735.55,369.25H745.55M740.55,364.25V374.25M736.3,365L744.8,373.5M736.3,373.5L744.8,365" fill="none" stroke="#ff0000" stroke-width="2.0"/>
<path d="M738.45,368.76H748.45M743.45,363.76V373.76M739.2,364.51L747.7,373.01M739.2,373.01L747.7,364.51" fill="none" stroke="#ff0000" stroke-width="2.0"/>
<path d="M720.67,379.17H730.67M725.67,374.17V384.17M721.42,374.92L729.92,383.42M721.42,383.42L729.92,374.92" fill="none" stroke="#ff0000" stroke-width="2.0"/>
<path d="M725.01,376.49H735.01M730.01,371.49V381.49M725.76,372.24L734.26,380.74M725.76,380.74L734.26,372.24" fill="none" stroke="#ff0000" stroke-width="2.0"/>
<path d="M761.54,324.49H771.54M766.54,319.49V329.49M762.29,320.24L770.79,328.74M762.29,328.74L770.79,320.24" fill="none" stroke="#ff0000" stroke-width="2.0"/>
<path d="M737.82,362.52H747.82M742.82,357.52V367.52M738.57,358.27L747.07,366.77M738.57,366.77L747.07,358.27" fill="none" stroke="#ff0000" stroke-width="2.0"/>
<path d="M727.04,374.74H737.04M732.04,369.74V379.74M727.79,370.49L736.29,378.99M727.79,378.99L736.29,370.49" fill="none" stroke="#ff0000" stroke-width="2.0"/>
<path d="M762.21,326.33H772.21M767.21,321.33V331.33M762.96,322.08L771.46,330.58M762.96,330.58L771.46,322.08" fill="none" stroke="#ff0000" stroke-width="2.0"/>
<path d="M747.74,347.82H757.74M752.74,342.82V352.82M748.49,343.57L756.99,352.07M748.49,352.07L756.99,343.57" fill="none" stroke="#ff0000" stroke-width="2.0"/>
<path d="M751.71,331.63H761.71M756.71,326.63V336.63M752.46,327.38L760.96,335.88M752.46,335.88L760.96,327.38" fill="none" stroke="#ff0000" stroke-width="2.0"/>
<path d="M749.12,342.77H759.12M754.12,337.77V347.77M749.87,338.52L758.37,347.02M749.87,347.02L758.37,338.52" fill="none" stroke="#ff0000" stroke-width="2.0"/>
<path d="M750.94,334.46H760.94M755.94,329.46V339.46M751.69,330.21L760.19,338.71M751.69,338.71L760.19,330.21" fill="none" stroke="#ff0000" stroke-width="2.0"/>
<path d="M726.76,377.33H736.76M731.76,372.33V382.33M727.51,373.08L736.01,381.58M727.51,381.58L736.01,373.08" fill="none" stroke="#ff0000" stroke-width="2.0"/>
<path d="M750.16,336.96H760.16M755.16,331.96V341.96M750.91,332.71L759.41,341.21M750.91,341.21L759.41,332.71" fill="none" stroke="#ff0000" stroke-width="2.0"/>
<path d="M763.82,318.39H773.82M768.82,313.39V323.39M764.57,314.14L773.07,322.64M764.57,322.64L773.07,314.14" fill="none" stroke="#ff0000" stroke-width="2.0"/>
<path d="M718.41,380.82H728.41M723.41,375.82V385.82M719.16,376.57L727.66,385.07M719.16,385.07L727.66,376.57" fill="none" stroke="#ff0000" stroke-width="2.0"/>
<path d="M748.58,351.01H758.58M753.58,346.01V356.01M749.33,346.76L757.83,355.26M749.33,355.26L757.83,346.76" fill="none" stroke="#ff0000" stroke-width="2.0"/>
<path d="M751.15,330.49H761.15M756.15,325.49V335.49M751.9,326.24L760.4,334.74M751.9,334.74L760.4,326.24" fill="none" stroke="#ff0000" stroke-width="2.0"/>
<path d="M770.35,319.05H780.35M775.35,314.05V324.05M771.1,314.8L779.6,323.3M771.1,323.3L779.6,314.8" fill="none" stroke="#ff0000" stroke-width="2.0"/>
<path d="M762.53,326.44H772.53M767.53,321.44V331.44M763.28,322.19L771.78,330.69M763.28,330.69L771.78,322.19" fill="none" stroke="#ff0000" stroke-width="2.0"/>
<path d="M755.12,326.57H765.12M760.12,321.57V331.57M755.87,322.32L764.37,330.82M755.87,330.82L764.37,322.32" fill="none" stroke="#ff0000" stroke-width="2.0"/>
<path d="M718.78,379.91H728.78M723.78,374.91V384.91M719.53,375.66L728.03,384.16M719.53,384.16L728.03,375.66" fill="none" stroke="#ff0000" stroke-width="2.0"/>
<path d="M752.95,332.19H762.95M757.95,327.19V337.19M753.7,327.94L762.2,336.44M753.7,336.44L762.2,327.94" fill="none" stroke="#ff0000" stroke-width="2.0"/>
<path d="M734.57,370.58H744.57M739.57,365.58V375.58M735.32,366.33L743.82,374.83M735.32,374.83L743.82,366.33" fill="none" stroke="#ff0000" stroke-width="2.0"/>
<path d="M729.66,379.31H739.66M734.66,374.31V384.31M730.41,375.06L738.91,383.56M730.41,383.56L738.91,375.06" fill="none" stroke="#ff0000" stroke-width="2.0"/>
<path d="M738.49,365.67H748.49M743.49,360.67V370.67M739.24,361.42L747.74,369.92M739.24,369.92L747.74,361.42" fill="none" stroke="#ff0000" stroke-width="2.0"/>
<path d="M716.01,381.96H726.01M721.01,376.96V386.96M716.76,377.71L725.26,386.21M716.76,386.21L725.26,377.71" fill="none" stroke="#ff0000" stroke-width="2.0"/>
<path d="M740.38,356.03H750.38M745.38,351.03V361.03M741.13,351.78L749.63,360.28M741.13,360.28L749.63,351.78" fill="none" stroke="#ff0000" stroke-width="2.0"/>
<path d="M736.95,361.05H746.95M741.95,356.05V366.05M737.7,356.8L746.2,365.3M737.7,365.3L746.2,356.8" fill="none" stroke="#ff0000" stroke-width="2.0"/>
<path d="M725.21,377.1H735.21M730.21,372.1V382.1M725.96,372.85L734.46,381.35M725.96,381.35L734.46,372.85" fill="none" stroke="#ff0000" stroke-width="2.0"/>
<path d="M742.11,358.33H752.11M747.11,353.33V363.33M742.86,354.08L751.36,362.58M742.86,362.58L751.36,354.08" fill="none" stroke="#ff0000" stroke-width="2.0"/>
<path d="M738.3,363.9H748.3M743.3,358.9V368.9M739.05,359.65L747.55,368.15M739.05,368.15L747.55,359.65" fill="none" stroke="#ff0000" stroke-width="2.0"/>
<path d="M726.4,373.65H736.4M731.4,368.65V378.65M727.15,369.4L735.65,377.9M727.15,377.9L735.65,369.4" fill="none" stroke="#ff0000" stroke-width="2.0"/>
<path d="M747.84,337.22H757.84M752.84,332.22V342.22M748.59,332.97L757.09,341.47M748.59,341.47L757.09,332.97" fill="none" stroke="#ff0000" stroke-width="2.0"/>
<path d="M753.64,328.52H763.64M758.64,323.52V333.52M754.39,324.27L762.89,332.77M754.39,332.77L762.89,324.27" fill="none" stroke="#ff0000" stroke-width="2.0"/>
<path d="M767.41,316.63H777.41M772.41,311.63V321.63M768.16,312.38L776.66,320.88M768.16,320.88L776.66,312.38" fill="none" stroke="#ff0000" stroke-width="2.0"/>
<path d="M760.25,323.86H770.25M765.25,318.86V328.86M761,319.61L769.5,328.11M761,328.11L769.5,319.61" fill="none" stroke="#ff0000" stroke-width="2.0"/>
<path d="M754.97,334.2H764.97M759.97,329.2V339.2M755.72,329.95L764.22,338.45M755.72,338.45L764.22,329.95" fill="none" stroke="#ff0000" stroke-width="2.0"/>
<path d="M715.04,380.16H725.04M720.04,375.16V385.16M715.79,375.91L724.29,384.41M715.79,384.41L724.29,375.91" fill="none" stroke="#ff0000" stroke-width="2.0"/>
<path d="M716.04,387.17H726.04M721.04,382.17V392.17M716.79,382.92L725.29,391.42M716.79,391.42L725.29,382.92" fill="none" stroke="#ff0000" stroke-width="2.0"/>
<path d="M719.05,389.18H729.05M724.05,384.18V394.18M719.8,384.93L728.3,393.43M719.8,393.43L728.3,384.93" fill="none" stroke="#ff0000" stroke-width="2.0"/>
<path d="M775.16,312.02H785.16M780.16,307.02V317.02M775.91,307.77L784.41,316.27M775.91,316.27L784.41,307.77" fill="none" stroke="#ff0000" stroke-width="2.0"/>
<path d="M778.17,315.03H788.17M783.17,310.03V320.03M778.92,310.78L787.42,319.28M778.92,319.28L787.42,310.78" fill="none" stroke="#ff0000" stroke-width="2.0"/>
<path d="M771.15,322.04H781.15M776.15,317.04V327.04M771.9,317.79L780.4,326.29M771.9,326.29L780.4,317.79" fill="none" stroke="#ff0000" stroke-width="2.0"/>
<path d="M763.14,315.03H773.14M768.14,310.03V320.03M763.89,310.78L772.39,319.28M763.89,319.28L772.39,310.78" fill="none" stroke="#ff0000" stroke-width="2.0"/>
<path d="M744.1,338.08H754.1M749.1,333.08V343.08M744.85,333.83L753.35,342.33M744.85,342.33L753.35,333.83" fill="none" stroke="#ff0000" stroke-width="2.0"/>
<path d="M768.15,330.06H778.15M773.15,325.06V335.06M768.9,325.81L777.4,334.31M768.9,334.31L777.4,325.81" fill="none" stroke="#ff0000" stroke-width="2.0"/>
<path d="M778.2,346.44 L783.3,337.15 L788.4,346.44 Z" fill="none" stroke="#00ff00" stroke-width="2.0" stroke-linejoin="miter"/>
<path d="M777,350.64 L782.1,341.35 L787.2,350.64 Z" fill="none" stroke="#00ff00" stroke-width="2.0" stroke-linejoin="miter"/>
<path d="M800.7,339.14 L805.8,329.85 L810.9,339.14 Z" fill="none" stroke="#00ff00" stroke-width="2.0" stroke-linejoin="miter"/>
<path d="M798.6,342.94 L803.7,333.65 L808.8,342.94 Z" fill="none" stroke="#00ff00" stroke-width="2.0" stroke-linejoin="miter"/>
<path d="M796.5,347.14 L801.6,337.85 L806.7,347.14 Z" fill="none" stroke="#00ff00" stroke-width="2.0" stroke-linejoin="miter"/>
<path d="M792.9,351.34 L798,342.05 L803.1,351.34 Z" fill="none" stroke="#00ff00" stroke-width="2.0" stroke-linejoin="miter"/>
<path d="M741.99,348.1 L747.09,343 L752.19,348.1 L747.09,353.2 Z" fill="none" stroke="#0000ff" stroke-width="2.1" stroke-linejoin="miter"/>
<path d="M747,350.1 L752.1,345 L757.2,350.1 L752.1,355.2 Z" fill="none" stroke="#0000ff" stroke-width="2.1" stroke-linejoin="miter"/>
<path d="M751.01,345.09 L756.11,339.99 L761.21,345.09 L756.11,350.19 Z" fill="none" stroke="#0000ff" stroke-width="2.1" stroke-linejoin="miter"/>
<path d="M761.03,344.09 L766.13,338.99 L771.23,344.09 L766.13,349.19 Z" fill="none" stroke="#0000ff" stroke-width="2.1" stroke-linejoin="miter"/>
<path d="M763.04,350.1 L768.14,345 L773.24,350.1 L768.14,355.2 Z" fill="none" stroke="#0000ff" stroke-width="2.1" stroke-linejoin="miter"/>
<path d="M745,358.12 L750.1,353.02 L755.2,358.12 L750.1,363.22 Z" fill="none" stroke="#0000ff" stroke-width="2.1" stroke-linejoin="miter"/>
<path d="M751.01,358.12 L756.11,353.02 L761.21,358.12 L756.11,363.22 Z" fill="none" stroke="#0000ff" stroke-width="2.1" stroke-linejoin="miter"/>
<path d="M759.03,358.12 L764.13,353.02 L769.23,358.12 L764.13,363.22 Z" fill="none" stroke="#0000ff" stroke-width="2.1" stroke-linejoin="miter"/>
<path d="M762.03,362.12 L767.13,357.02 L772.23,362.12 L767.13,367.22 Z" fill="none" stroke="#0000ff" stroke-width="2.1" stroke-linejoin="miter"/>
<path d="M745,364.13 L750.1,359.03 L755.2,364.13 L750.1,369.23 Z" fill="none" stroke="#0000ff" stroke-width="2.1" stroke-linejoin="miter"/>
<path d="M749.01,368.14 L754.11,363.04 L759.21,368.14 L754.11,373.24 Z" fill="none" stroke="#0000ff" stroke-width="2.1" stroke-linejoin="miter"/>
<path d="M760.03,370.14 L765.13,365.04 L770.23,370.14 L765.13,375.24 Z" fill="none" stroke="#0000ff" stroke-width="2.1" stroke-linejoin="miter"/>
<path d="M747,375.15 L752.1,370.05 L757.2,375.15 L752.1,380.25 Z" fill="none" stroke="#0000ff" stroke-width="2.1" stroke-linejoin="miter"/>
<path d="M759.03,378.16 L764.13,373.06 L769.23,378.16 L764.13,383.26 Z" fill="none" stroke="#0000ff" stroke-width="2.1" stroke-linejoin="miter"/>
<path d="M744,353.11 L749.1,348.01 L754.2,353.11 L749.1,358.21 Z" fill="none" stroke="#0000ff" stroke-width="2.1" stroke-linejoin="miter"/>
<path d="M748.01,355.11 L753.11,350.01 L758.21,355.11 L753.11,360.21 Z" fill="none" stroke="#0000ff" stroke-width="2.1" stroke-linejoin="miter"/>
<path d="M746,361.12 L751.1,356.02 L756.2,361.12 L751.1,366.22 Z" fill="none" stroke="#0000ff" stroke-width="2.1" stroke-linejoin="miter"/>
<path d="M743,357.11 L748.1,352.01 L753.2,357.11 L748.1,362.21 Z" fill="none" stroke="#0000ff" stroke-width="2.1" stroke-linejoin="miter"/>
<path d="M750.01,352.1 L755.11,347 L760.21,352.1 L755.11,357.2 Z" fill="none" stroke="#0000ff" stroke-width="2.1" stroke-linejoin="miter"/>
<path d="M740.99,360.12 L746.09,355.02 L751.19,360.12 L746.09,365.22 Z" fill="none" stroke="#0000ff" stroke-width="2.1" stroke-linejoin="miter"/>
<path d="M748.01,364.13 L753.11,359.03 L758.21,364.13 L753.11,369.23 Z" fill="none" stroke="#0000ff" stroke-width="2.1" stroke-linejoin="miter"/>
<path d="M752.01,350.1 L757.11,345 L762.21,350.1 L757.11,355.2 Z" fill="none" stroke="#0000ff" stroke-width="2.1" stroke-linejoin="miter"/>
<path d="M83.05,414.1 L169.9,414.1 L265.9,286.13" fill="none" stroke="#000" stroke-width="1.35" stroke-dasharray="6.6 6.6" clip-path="url(#cb0)"/>
<path d="M265.9,414.1 L352.75,414.1 L448.75,286.13" fill="none" stroke="#000" stroke-width="1.35" stroke-dasharray="6.6 6.6" clip-path="url(#cb1)"/>
<path d="M448.75,414.1 L535.6,414.1 L631.6,286.13" fill="none" stroke="#000" stroke-width="1.35" stroke-dasharray="6.6 6.6" clip-path="url(#cb2)"/>
<path d="M631.6,414.1 L718.45,414.1 L814.45,286.13" fill="none" stroke="#000" stroke-width="1.35" stroke-dasharray="6.6 6.6" clip-path="url(#cb3)"/>
<rect x="93.5" y="291.1" width="107.3" height="59" fill="#fff" stroke="#000" stroke-width="1.4"/>
<path d="M104.4,309.32 L109.6,299.86 L114.8,309.32 Z" fill="none" stroke="#00ff00" stroke-width="2.1" stroke-linejoin="miter"/>
<path d="M104.3,321.1 L109.7,315.7 L115.1,321.1 L109.7,326.5 Z" fill="none" stroke="#0000ff" stroke-width="2.2" stroke-linejoin="miter"/>
<path d="M103.7,337.2H115.7M109.7,331.2V343.2M104.6,332.1L114.8,342.3M104.6,342.3L114.8,332.1" fill="none" stroke="#ff0000" stroke-width="2.3"/>
<text x="120.3" y="308.4" font-size="14" text-anchor="start" textLength="34.3" lengthAdjust="spacing">giant</text>
<text x="120.3" y="324.8" font-size="14" text-anchor="start" textLength="72.3" lengthAdjust="spacing">(sub)giant</text>
<text x="120.3" y="340.7" font-size="14" text-anchor="start" textLength="37.6" lengthAdjust="spacing">dwarf</text>
</svg></body></html>
